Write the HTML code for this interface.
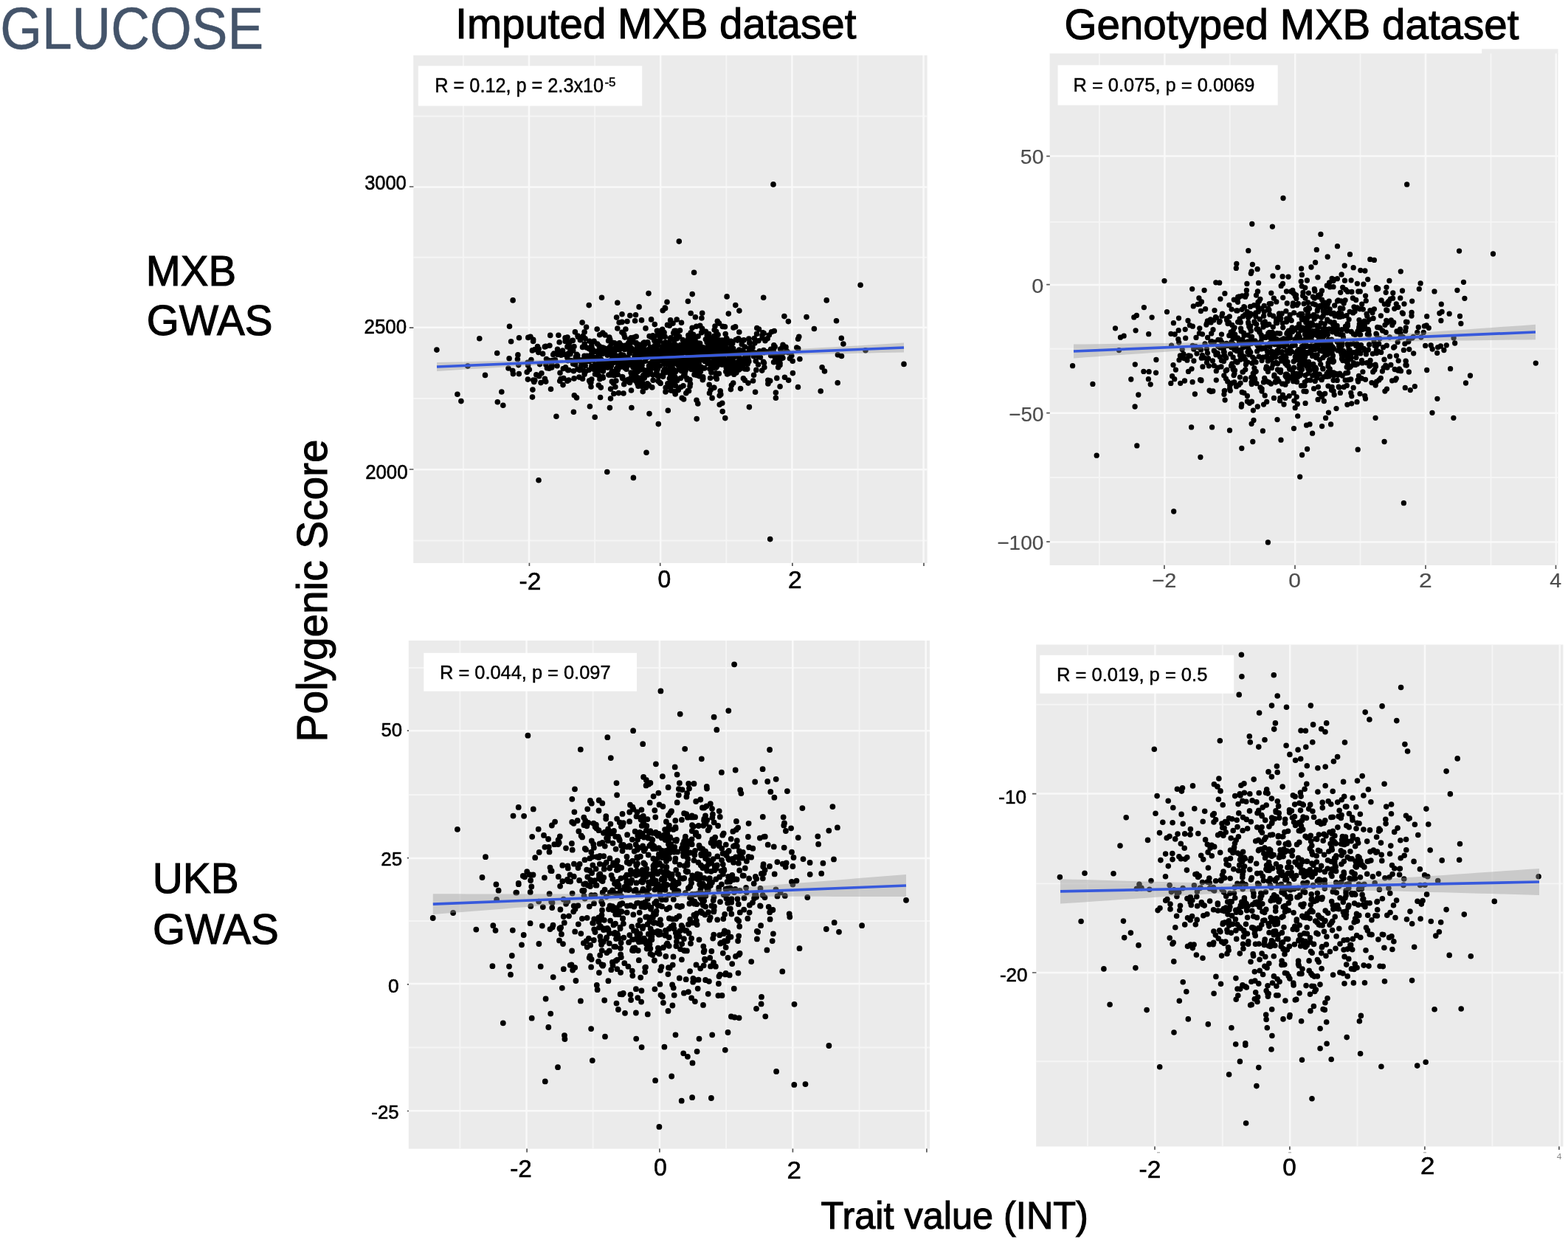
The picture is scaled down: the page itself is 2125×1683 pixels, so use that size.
<!DOCTYPE html>
<html lang="en"><head><meta charset="utf-8"><title>GLUCOSE</title>
<style>html,body{margin:0;padding:0;background:#fff}body{width:2125px;height:1683px;overflow:hidden}svg{display:block}</style>
</head><body>
<svg role="img" aria-label="GLUCOSE polygenic score versus trait value scatter plots" width="2125" height="1683" viewBox="0 0 2125 1683" font-family='"Liberation Sans", Arial, Helvetica, sans-serif'>
<rect width="2125" height="1683" fill="#fff"/>
<g id="p1">
<rect x="560.2" y="75" width="696.4" height="688" fill="#ebebeb"/>
<path d="M560.2 157.5H1256.6M560.2 348.8H1256.6M560.2 540H1256.6M560.2 732.5H1256.6M627.9 75V763M806.1 75V763M984.3 75V763M1162.5 75V763" stroke="#f5f5f5" stroke-width="1.9" fill="none"/>
<path d="M560.2 253.4H1256.6M560.2 443.7H1256.6M560.2 636.3H1256.6M717 75V763M895.2 75V763M1073.4 75V763M1251.6 75V763" stroke="#f9f9f9" stroke-width="2.5" fill="none"/>
<rect x="566.8" y="89.3" width="303.4" height="54.2" fill="#fff"/>
<path d="M824.6 461.8h0M997.1 481.9h0M962.6 512.3h0M888.6 462.2h0M832.5 508.7h0M932.5 498.3h0M808.7 484.3h0M892.6 478.4h0M798.9 462.2h0M1000.2 493.3h0M797.9 488.7h0M875.2 480h0M961.7 460.4h0M1024.9 501.4h0M971.2 496.9h0M1016.2 471.5h0M950.2 474.8h0M905.2 467.2h0M789.1 437.1h0M809.6 466h0M782.8 500.3h0M895.4 475.6h0M850 435.5h0M864.6 490.3h0M831.8 476.8h0M904.9 519.8h0M1050.3 484.3h0M897.6 472.2h0M900.3 504.1h0M1062.9 428.6h0M801.7 468.4h0M848.7 487h0M973.3 489.6h0M951.5 484.2h0M865.9 517h0M896.9 456.2h0M801.8 514h0M858.6 475.9h0M873.4 479.7h0M915.5 503.7h0M793.7 490.5h0M746.5 527.2h0M976.8 534.4h0M861.5 497.7h0M813.6 538.5h0M899.3 493h0M818.4 496.8h0M894.7 458.7h0M847.9 446h0M1001.8 460.4h0M833.8 483h0M972.1 494.2h0M887.5 468h0M1142.9 466.1h0M879.4 506.9h0M972.3 435.3h0M873.1 464.1h0M960.5 490h0M891.2 509.4h0M882.6 432.9h0M905.2 466.4h0M865.8 478.6h0M922.2 501.2h0M967.8 474.7h0M868.4 495.6h0M738.4 513.2h0M777.4 558.2h0M864.7 487.5h0M881.2 479.3h0M892.5 485.6h0M763.3 499.5h0M902.2 465.3h0M815.6 470.9h0M843 425.8h0M1002.3 478.6h0M937.1 499.2h0M1081.7 472.4h0M772.3 476.9h0M988.4 490.1h0M943.7 483.5h0M830.7 473.3h0M866.7 501.8h0M1061.5 477.9h0M1013.2 493.2h0M862.2 456h0M747.8 494.1h0M811.4 477.2h0M891.3 466.8h0M927.9 470.1h0M878.5 483.9h0M926 489h0M915.7 483.5h0M842.3 495.8h0M975.4 461.1h0M862.4 517h0M969.5 494.8h0M967.5 461.8h0M834.1 484.7h0M800 518.5h0M1055.4 495.9h0M864.2 476.4h0M979 489.1h0M994.8 507.3h0M1007 493.2h0M862.7 475.6h0M1009.2 485.1h0M893.6 509.5h0M958.2 453.8h0M1005.4 489.5h0M970 505.8h0M970.5 498.1h0M801.8 496.4h0M852.7 473.6h0M806 476.3h0M1053.5 486.4h0M1051 490.1h0M756.9 454.3h0M941 507.6h0M815.8 494.7h0M936.4 476.1h0M928 507.8h0M950.8 499.6h0M969.9 464.2h0M802 470.8h0M633.9 496.1h0M919.7 491.7h0M873.6 466.9h0M766 457.9h0M873.6 483.8h0M715.6 494.6h0M803.2 473.7h0M996.2 505.8h0M792.2 466.1h0M897.7 446.3h0M926.4 477.1h0M929 502.3h0M877.8 463.9h0M841.4 491.8h0M673.7 478.5h0M900 473h0M868.4 480.4h0M1033.9 450.8h0M794.6 443.2h0M828.4 495.5h0M888.4 499.4h0M976.7 478.7h0M964.1 458h0M869.9 523.4h0M852.2 473.9h0M890.5 468.8h0M759 505.3h0M1114.1 497.7h0M703.3 506.6h0M904.7 501.9h0M1009.3 470h0M1041.4 518.3h0M1173 474.8h0M1074.2 489.2h0M956.1 475.2h0M796.7 487h0M901.3 485h0M778.8 492.3h0M827.9 473.9h0M1039 476.8h0M886.1 482.4h0M952.7 510.9h0M1001.9 421.1h0M910.9 478.2h0M790.3 455.2h0M741.4 498.8h0M880.5 474.2h0M781.5 538.9h0M941.8 473.5h0M773.3 471.4h0M932 483.1h0M1001.6 500.9h0M951.9 487.2h0M969 442h0M914.3 518.7h0M811.5 493.6h0M801.2 483.2h0M993.7 519h0M911.3 485.5h0M904.5 440.4h0M817 510.7h0M946.8 485.1h0M979.3 469.1h0M921 500h0M992.7 465.2h0M1009.7 489h0M942 459.9h0M769.6 479.6h0M941.3 485.4h0M862.3 473.5h0M758.7 516.2h0M961.2 521.3h0M806.1 497.4h0M965.1 539.4h0M990.4 527.6h0M965.6 481.2h0M991.4 499.5h0M964.5 475.9h0M856.6 463.4h0M1040.8 515.3h0M912.4 483.5h0M923.9 471.4h0M752.5 487.9h0M885.7 478.2h0M726.8 507.8h0M859.2 507.7h0M802.4 481.9h0M839.5 464.8h0M931.8 463.9h0M924.2 539.2h0M916 475.7h0M986.6 472.8h0M793.7 483.9h0M992.2 474.2h0M951.6 445.3h0M790.9 502.2h0M907.3 441.2h0M902.2 525.2h0M970.6 510h0M721.5 538.1h0M795 471h0M835.5 499.5h0M1014.8 459h0M842.4 480.8h0M1027.6 494h0M857.9 497.4h0M867.6 490.2h0M991.4 522.1h0M908.9 457.8h0M909.4 521.8h0M1023.6 531.2h0M914.5 478.1h0M933.3 488.3h0M846.8 457.1h0M914.1 493h0M1028 461.8h0M916.2 486.3h0M984.7 488h0M870.1 494.5h0M910.1 468.6h0M918.7 449.4h0M841.1 486.4h0M1057.6 473h0M722.6 462.5h0M1022 477.9h0M959 492.5h0M902.2 473.8h0M985.6 507h0M879.2 501h0M906.9 487.7h0M1001.6 474.9h0M973.1 453.5h0M1029.3 475.7h0M969.3 487.8h0M856.5 491.7h0M969.9 511.3h0M855.5 529h0M909.1 529.1h0M890.9 492.3h0M823.2 481.2h0M971.3 513.4h0M830 482.4h0M1044.6 473.3h0M852.5 493h0M974.4 483.2h0M728.5 469.5h0M829.7 483h0M950.3 482.7h0M796.5 482.8h0M993.5 499h0M1006.8 494h0M925.9 478.1h0M874.9 483.8h0M908.8 518.2h0M849.9 484.2h0M853.6 466.7h0M967.2 498.5h0M885.2 455.4h0M895.1 519.4h0M777.4 502.8h0M934.5 473h0M755.7 480.4h0M988.5 482.4h0M914.5 487.1h0M779.4 449.9h0M864.6 521.1h0M935 523.4h0M845.9 483.2h0M967.3 478.8h0M996 483.2h0M926.5 509.3h0M998.5 498h0M901.1 480.3h0M853 468.8h0M839.7 485.7h0M896.2 453.9h0M851.3 485.2h0M904.7 493.9h0M875.2 502.3h0M811.8 493.4h0M871.1 511.1h0M849.6 496.2h0M855.2 457.7h0M881 473.5h0M936.9 500.5h0M880.9 482.7h0M818 492h0M885.3 496.7h0M871.8 468.9h0M776.3 461.4h0M722.7 460.2h0M915.7 502.2h0M773.9 488.5h0M776.7 493h0M744.9 468.3h0M926.2 489h0M914.2 485.2h0M931.9 468.9h0M944.3 508.4h0M911.1 494.6h0M912.1 492.5h0M818.6 492.6h0M985.5 501.6h0M972.2 460.4h0M949.4 503.5h0M981.6 491.6h0M777.2 492.7h0M917.9 484.8h0M931.3 514.4h0M911.2 514.7h0M860.3 502.1h0M851.7 490.9h0M833.9 524.2h0M891.5 448.4h0M776.7 475h0M850.5 494.1h0M915.8 448.3h0M920.6 456h0M1072.8 482.1h0M916 477.9h0M914.3 487h0M782.7 481.5h0M863.2 502.5h0M894.1 488.3h0M760.4 481.2h0M1009.4 515.3h0M981.9 470.6h0M903.4 489.5h0M930.5 488.3h0M901.2 500.1h0M861.5 426.7h0M730.1 472.7h0M932.4 408.2h0M947.4 487.3h0M789.5 470.4h0M858.7 487.4h0M936.2 450.8h0M811.3 522.1h0M993.3 489.3h0M875.9 502.7h0M975.4 468.7h0M856.8 475h0M838.8 482.3h0M974.2 493.6h0M919.3 528.6h0M831.8 533.5h0M927 489h0M1014 519.1h0M798.2 472.4h0M990.8 471.8h0M816.7 474h0M809.2 446h0M838.4 532.6h0M863.8 504h0M1052.8 512.4h0M770.9 501.5h0M841.4 481.8h0M743.2 488.3h0M911.4 470.1h0M888.1 472.6h0M960.3 479.4h0M888.7 473.8h0M809.5 477.3h0M875.7 525.1h0M889.9 504.6h0M769.6 501.6h0M826.9 470.6h0M718.9 456.2h0M938.6 482.5h0M915.6 467.6h0M907 464.2h0M860.3 503.5h0M766.5 497.9h0M957.5 471.4h0M980.1 463.7h0M1035 474.5h0M941.6 467.1h0M962 499.9h0M932.8 465.7h0M1010.7 482.1h0M837.6 501.1h0M930.8 464.7h0M1063.5 511.2h0M910.5 494.2h0M926.2 467h0M884.9 498.2h0M944 542.2h0M958.1 463.8h0M805.3 500.7h0M784.9 511.1h0M894 486.4h0M838.8 465.8h0M866.8 467.3h0M1005.3 466.5h0M941.5 489.7h0M845 533h0M991.7 484.4h0M960.5 474h0M822.4 472.5h0M947.2 471.8h0M940.8 495.9h0M944.7 469h0M798.5 485.8h0M978.8 461h0M883 499.3h0M1013.9 486.2h0M834.8 483.1h0M803.7 488.2h0M1051 487.7h0M970.4 477.6h0M930.3 492.2h0M884.5 492h0M865 523.2h0M901.1 473.3h0M768.7 484.3h0M826.4 552.6h0M946.9 507.5h0M850.8 488.5h0M923.5 437.3h0M858.9 457.4h0M724.8 515.2h0M868.7 514h0M1002 484.9h0M887.6 488h0M970.7 449.3h0M1007.4 512.7h0M895.4 483.4h0M1003.4 494.1h0M721.9 528.1h0M979 490.8h0M863.5 468.9h0M996.9 503.4h0M945.8 480.1h0M920.2 482.9h0M922 486.2h0M932.2 529.6h0M848.6 494.6h0M884.9 480.3h0M933.8 481.3h0M906.7 480.2h0M890.4 448.3h0M952.9 470.9h0M890.4 502.4h0M881.2 497.6h0M977.8 471.8h0M987.3 425.1h0M744.2 499.3h0M768.5 462.3h0M866.8 512.5h0M903.9 470.7h0M899.7 452h0M828.9 465.6h0M844.5 494.2h0M901.3 473.7h0M1012.7 500.1h0M1012.3 489.6h0M901.3 417h0M887.5 474.3h0M788.6 487.9h0M875.2 482.7h0M923 494.4h0M844.3 491.4h0M1035.3 477.6h0M908.6 433.7h0M855.9 552.5h0M1044.7 481.7h0M739.9 494.2h0M930.8 512.6h0M967.7 485.7h0M970.8 497.4h0M923.2 486h0M930.8 474.9h0M898.2 420.8h0M954.7 498.9h0M933.4 459.9h0M953 486.3h0M831 464.5h0M768.9 469.9h0M970.6 508.3h0M817.8 474h0M961.5 532.7h0M991.4 467.3h0M820 453.9h0M1003.6 526.6h0M1135.4 480.8h0M974.5 438.1h0M801.4 471.4h0M950.3 497.4h0M917.4 458.7h0M749.7 480.6h0M835.6 430.1h0M1015.8 463.7h0M763 521.6h0M829.5 487.9h0M785.2 500.6h0M871.2 530.6h0M979.3 442.4h0M812.1 490.7h0M1045.6 449.7h0M724.9 473.6h0M1011.7 478.8h0M895.2 483.7h0M1074.4 505.6h0M859.8 485.6h0M864.3 468.5h0M972.7 473.8h0M963.7 494.7h0M892.1 516.4h0M1103.4 445.5h0M834.6 474h0M912.7 451.2h0M909.9 499.5h0M934.2 468.8h0M984 467.8h0M1060.5 470.4h0M778 469.6h0M1057.1 492.3h0M917.2 433h0M940.6 499.1h0M896.2 455.3h0M695.4 506.6h0M921.5 447.8h0M941.7 499.9h0M934.9 514.6h0M793.7 503.2h0M985 459.1h0M801 524h0M982.5 442.8h0M990 502.7h0M715.8 457.4h0M934.2 494.9h0M839.6 474h0M722.7 515.1h0M864.1 466.5h0M941 496.8h0M938.8 462.3h0M905.6 481.2h0M945.8 546.9h0M877.5 507.9h0M739.7 517.1h0M1081.6 459.2h0M802.6 486.6h0M812.9 476.8h0M870.8 500.4h0M1013.8 482.3h0M979.3 493.8h0M793.2 495.5h0M896.7 478.9h0M910 476.2h0M1068.4 435.6h0M961.1 481.3h0M694.8 502.3h0M703.5 457.8h0M816.9 451h0M912 438.1h0M859.8 512.4h0M816.1 472.3h0M855.6 471.7h0M952.1 476.9h0M1017.6 477.4h0M744.3 489.3h0M804.5 475.5h0M1057 494.8h0M760 513.2h0M885.1 515.2h0M938.7 482.2h0M941.9 483.6h0M887.8 497.1h0M907.4 512.8h0M1032.7 502.1h0M850.3 490.4h0M731.5 493.6h0M883.8 524.9h0M915 481h0M984.5 458.4h0M878.7 501h0M906.6 477.1h0M974.3 506.3h0M825.8 457.1h0M923.9 489.8h0M766.1 462.4h0M755.5 473.3h0M891.5 499.8h0M755 495.7h0M859.2 495h0M897.8 449.4h0M988 483.5h0M869.2 496.7h0M880.2 472.8h0M827.6 527.1h0M674.3 544.7h0M942.4 429.8h0M990.4 462.2h0M789.5 513.3h0M960.3 466.2h0M922.4 512.5h0M962 464.4h0M805.1 462.7h0M809.8 503h0M771.2 465.6h0M1008 460.9h0M958 458.8h0M735.6 479.4h0M956 479.5h0M1012.5 486.4h0M690.1 485.8h0M773.2 477.6h0M837.1 487.2h0M843.7 510.8h0M887.4 493.3h0M862.1 496.2h0M721.4 474.9h0M805.1 462.3h0M826.9 469.5h0M926.2 497.3h0M933.5 479.3h0M873 509.1h0M935.5 520h0M821.9 479.1h0M913.6 530.6h0M846.5 473.4h0M953.4 483.7h0M970.5 507.9h0M679.8 531h0M855 493.4h0M910 470.8h0M915.1 467.6h0M883.2 474.4h0M1068.7 515.3h0M972.6 471.8h0M817.3 512.1h0M813.7 498.9h0M811.6 474.7h0M1060.9 485.1h0M823.1 492h0M832.7 478.5h0M813.2 497.3h0M842.9 450.3h0M929.6 490.3h0M928.9 500.4h0M886.9 483.1h0M766.1 480.5h0M786.4 460.8h0M841.9 486.3h0M984.2 497.9h0M1020.6 516h0M926 522.7h0M829.3 517h0M775.5 461.6h0M974.2 490.3h0M800.6 474.1h0M782.7 484.8h0M889.2 470.4h0M1051.5 480.9h0M895.4 509.3h0M762.5 475.1h0M965.7 497.5h0M875.6 474.1h0M808.1 484.3h0M824.9 508.1h0M892.6 474.9h0M959.6 469h0M978.2 467.9h0M860.1 482.2h0M926.6 541h0M867.1 473.9h0M964.7 478.8h0M1081.5 524.5h0M952.3 514.7h0M1083.9 486.5h0M1065 470.2h0M910.7 507.7h0M943.3 502h0M894.2 495.7h0M875 444.9h0M1042.3 454.1h0M750.8 479.1h0M748.2 488.5h0M994.8 483.1h0M986.1 495.5h0M919.1 474h0M878.1 464.8h0M828 478.1h0M991.1 477.5h0M946.8 479.6h0M980.4 484.9h0M988.1 475.9h0M939.6 453.4h0M1001.8 450h0M924 468.8h0M853.5 518.4h0M883.1 457h0M900.3 501h0M884.8 508h0M811.2 508.6h0M930.3 491.6h0M807.7 503.4h0M833 485.8h0M1035.2 451.6h0M935.2 468.1h0M851.7 464.9h0M1054.7 497.8h0M1006.6 486.3h0M916.5 476.7h0M882.4 477.5h0M922.8 524.5h0M956.4 485.8h0M899.1 503.6h0M862.4 479.2h0M890.8 487.3h0M984.1 459.8h0M877.9 476.7h0M862.1 464.5h0M833.6 472.4h0M1015.8 464.8h0M778 512.9h0M834.9 516.1h0M932.6 476.7h0M861.7 465.1h0M967.8 486.1h0M891 454h0M1007 475.1h0M910.2 514h0M875.9 474.8h0M810.6 487.2h0M968.1 455.3h0M919.6 495.5h0M971.6 476.8h0M981.8 491.2h0M912 500.1h0M999.6 490.9h0M692.6 462.8h0M963.9 504.8h0M862.9 472.4h0M843.8 469.9h0M785.5 489.1h0M912.3 459.5h0M833.8 483.7h0M856.4 515h0M889.3 483.4h0M899 465h0M940.8 480.1h0M923.3 481.8h0M875.2 503.3h0M960.8 452.5h0M917.1 469h0M814.5 480.1h0M981.5 461.9h0M936.2 424.5h0M1009.5 499.9h0M787.5 496h0M792.1 449.9h0M800.9 518h0M952.8 513.1h0M849.9 489h0M1007.3 489.7h0M806.5 507h0M793.1 458.7h0M879.5 495.8h0M830.9 508.1h0M1019.9 470.9h0M881.5 504.9h0M895.4 448.4h0M1001.9 474h0M853.3 488.1h0M988.2 474.2h0M911.2 486.9h0M819.7 492.9h0M948.9 468.1h0M729.8 477.5h0M847.3 517.1h0M927.9 488.1h0M866 484h0M848.9 515.3h0M906.7 481.1h0M740.5 486.6h0M940.6 477.7h0M995.7 477.2h0M1033 454.8h0M946.1 455.7h0M1022.8 465.1h0M918.8 470.9h0M900.9 471.2h0M928.5 489.1h0M925.2 460.6h0M955 480.4h0M901.6 417.8h0M867.4 475.2h0M834.9 490.1h0M911.6 480.7h0M947.1 481.2h0M891.3 463.9h0M1030.4 484.1h0M934.2 497.7h0M993.7 501.8h0M884.7 476.1h0M738.3 469.9h0M759.9 478.9h0M974.4 486.8h0M900.6 470.8h0M715.6 495h0M845.8 489.7h0M1093 429.6h0M908.6 510.6h0M918.1 472.9h0M827.7 488.5h0M814.1 489.7h0M940.3 501h0M772.5 471.8h0M964.4 482.9h0M983.2 452.6h0M1133.5 434.8h0M969.7 471.2h0M947.2 492.3h0M1043.7 516h0M942.4 487.7h0M914 461h0M845.7 520.8h0M1007.7 478h0M904 487.1h0M915.6 452.8h0M993.7 472.3h0M865.1 490.2h0M820.8 475.5h0M879.3 521.9h0M908.9 525.1h0M1070.5 485.8h0M886.3 480.9h0M832.7 464.9h0M860.6 434.8h0M780.1 487.3h0M1034.6 490.4h0M1082.8 456.3h0M1037 461.7h0M933.5 529.8h0M798.2 501.3h0M873.2 512.3h0M908.3 506.7h0M1003.4 499.5h0M714.2 504.2h0M881.6 492.4h0M1025.6 452.4h0M978.5 494.1h0M914.1 448.4h0M798.6 489.6h0M920.6 498.5h0M853.7 494.2h0M956.5 449.3h0M962.1 492.7h0M956.8 475.6h0M845.7 453.3h0M978.7 478.8h0M831.3 519.2h0M930.1 477.6h0M1028.3 483.5h0M903 466.6h0M827.9 507.9h0M901.8 463.9h0M913.6 485.2h0M932.6 459.2h0M973.7 484.6h0M1022.3 458.5h0M964.2 481.9h0M853.1 478.9h0M910.2 503.5h0M818.8 498.4h0M816.3 479.6h0M715.4 514.1h0M1040.9 519.9h0M847.9 468h0M929.8 532.8h0M829.1 503.9h0M860 487.5h0M960.6 484.4h0M987.8 505.9h0M833.5 485.5h0M892.1 462.6h0M816.4 479.6h0M1015.5 474.2h0M976.4 477.8h0M936.1 459.6h0M792.1 507.1h0M902 530.9h0M856 512h0M980.9 480.4h0M973.8 471.3h0M951.7 424.2h0M969.3 490.4h0M862 475.7h0M940.4 476.8h0M702.7 494.6h0M874.3 478h0M768.9 516.3h0M853.8 427.6h0M719.9 487.5h0M1048.6 477.5h0M871.5 508.7h0M910 502.3h0M845 481.2h0M959.1 478.2h0M932.4 462.3h0M967.5 525.4h0M974.8 492.6h0M831.1 491.6h0M950.6 450.7h0M950.9 431h0M866.9 488.3h0M948.6 465.2h0M842.2 467.9h0M896.8 480h0M892.8 462.6h0M849.6 486.2h0M1035.9 497.7h0M855.6 511h0M701.4 486.7h0M1056.7 482.4h0M1057.8 486.4h0M795.7 482.3h0M968.8 460.9h0M832.1 503.4h0M861.2 507.9h0M689 499h0M894.1 518.4h0M717.3 500.8h0M758.1 463.7h0M895.8 485.2h0M769.5 488.6h0M967.9 525.2h0M983.8 503.5h0M928.1 505.8h0M814.3 525.1h0M921.4 494.8h0M874.5 489.3h0M912.5 482.9h0M859.1 514.7h0M838.8 472.6h0M783.4 456.6h0M922.2 501.4h0M955 489.4h0M1000.7 458.9h0M1140.3 458.3h0M884.8 454.7h0M855.1 505.1h0M780.3 483.7h0M824.2 473.1h0M878.5 506.8h0M900.3 484.1h0M1048.7 472.2h0M804.1 487.2h0M920.9 491.9h0M843.8 512.8h0M826.7 459.9h0M975.2 548.2h0M967.9 467.1h0M922.3 467.6h0M832.7 477h0M1001.1 475h0M918.3 482.9h0M808 476.4h0M808.7 476.2h0M927.9 492.5h0M863.9 519.9h0M1014.8 489.7h0M869.5 433.9h0M884.9 487.3h0M881.2 492.4h0M963 528.5h0M843.1 510.6h0M923.7 502.8h0M701.9 480.9h0M1040.2 458.8h0M868.4 495.2h0M1021.5 482.8h0M915.2 534h0M745.7 454.4h0M903 468.8h0M902.2 503.1h0M889.5 505.7h0M943.9 489.9h0M812.9 513.7h0M715.1 491.4h0M816.1 502.3h0M920.1 476.6h0M886.7 461.6h0M857.1 462.6h0M989.7 477.2h0M908.2 458.5h0M1066.3 475.7h0M994.1 475.8h0M1048.6 490.7h0M975.2 536.1h0M900.1 450.6h0M943.7 494.4h0M864.3 502.4h0M994 444h0M975.6 477.2h0M984.9 460.9h0M996.6 442.9h0M837.6 495.5h0M985.3 460.7h0M888.3 467.4h0M778.3 535.7h0M876.3 484.6h0M997.2 460.5h0M881.5 470.5h0M901.2 456.2h0M769 457.1h0M970.4 468.5h0M938.6 477h0M872 464.7h0M785.5 501.6h0M868.5 475.9h0M956.4 459.8h0M960.6 482.8h0M986 465.2h0M888.7 498.8h0M1000.4 493.5h0M1035.5 491.8h0M817.9 471.4h0M1057.1 523.7h0M975.9 465.2h0M831.5 485h0M988.4 488.3h0M913.3 466.8h0M763.8 512.6h0M968.2 447.1h0M770.7 515h0M966.8 469.5h0M1067.8 477.6h0M956.2 478.7h0M1013.8 491.3h0M846.6 468.9h0M846.8 498.4h0M836.7 466h0M907.2 492.7h0M916.8 484.3h0M832.5 504.1h0M779.6 493.9h0M1021.6 508.2h0M836.2 490.1h0M851.6 486.7h0M873.7 506.8h0M747.7 498h0M990.8 485.9h0M823.5 498.1h0M739.5 469.4h0M874.2 475.1h0M991.3 479.8h0M911.7 519.8h0M810.9 480.4h0M997.9 505h0M814.8 487.4h0M944.3 465.4h0M938.8 491.8h0M946.1 465h0M929.5 486.9h0M877.3 519.7h0M992.8 500.5h0M917.1 485.3h0M1049.3 448.5h0M908.3 498.9h0M799.4 550.7h0M962.3 490.7h0M942.1 469.7h0M938.1 444.2h0M848.9 500.2h0M947.8 509.7h0M920.2 478.7h0M864.3 511.8h0M827.9 479.1h0M842.9 436.4h0M932.9 454.3h0M827.3 497.7h0M870.3 517.7h0M905.7 474.8h0M1024 478.4h0M934.6 488.2h0M772.9 479.7h0M939.5 474h0M951.9 475.5h0M840.2 497.5h0M806.8 493.9h0M790.9 493.8h0M836.8 445h0M730.6 509.8h0M1025.8 444.5h0M961.5 482.1h0M858.7 509.1h0M873.5 501.9h0M948.8 441.2h0M915.6 522.7h0M842.7 493.4h0M880.1 455.5h0M1024.3 489.2h0M898.5 510.3h0M723.8 517.4h0M733.9 505.8h0M781.7 480.3h0M914.5 510.4h0M961.5 467.7h0M979.6 470.5h0M915.8 512.6h0M980.9 476.2h0M872.5 477.4h0M905.4 481h0M827.5 540.1h0M910.6 490.6h0M1048.8 467.8h0M887.3 439.6h0M886.5 457.8h0M975.7 493.7h0M690.5 442.3h0M947.9 505.3h0M943.7 442.3h0M976.2 529.9h0M910.4 482.2h0M839.1 437h0M1117.5 503h0M733 518.6h0M853.2 460.1h0M798.7 515.9h0M999.5 461.1h0M1140.5 482.5h0M932.2 488.4h0M993.5 494.1h0M840.9 481.5h0M903.6 474.1h0M812.7 453.8h0M988 481.8h0M874.3 507.4h0M862.5 490.7h0M947.3 497.3h0M983.8 477.4h0M837.1 507.4h0M851.3 514.2h0M989.7 494h0M821.7 495.6h0M897 488.5h0M902 504.7h0M1028.5 446.1h0M1061 467.3h0M946.8 476.4h0M801.6 479.8h0M897.7 469.9h0M1033.1 457.9h0M881.5 482.7h0M783 455h0M946.1 504.4h0M812 468.7h0M1050.2 469.7h0M917.5 515.7h0M817.4 503.1h0M792 482.4h0M933.2 462.5h0M1079.8 471h0M870.9 519h0M1048 249.9h0M920.3 327.1h0M940.6 369.3h0M1166.1 386.3h0M938.2 398.6h0M879 397.6h0M985.1 401.9h0M1034.7 403.3h0M1120.2 406.9h0M695.1 406.9h0M815.5 403.3h0M836.8 410.2h0M798.2 413.6h0M904 409.2h0M996.8 413.6h0M866.1 415.9h0M591.9 474.1h0M649.8 458.8h0M1225 493.4h0M619.9 534.3h0M624.9 543.6h0M681.8 549.3h0M1135.2 518.7h0M1112.2 530h0M657.5 508.4h0M753.9 564.3h0M806.2 565.3h0M880 560.6h0M892.3 574.6h0M905.3 556.3h0M944.2 567.6h0M979.2 557.6h0M982.8 566.6h0M978.8 546.3h0M1015.4 551.6h0M1051.4 539.3h0M1051.4 532h0M876 613.2h0M822.8 639.5h0M858.4 647.4h0M730 650.8h0M1043.7 730.6h0" stroke="#000" stroke-width="7.6" stroke-linecap="round" fill="none"/>
<polygon points="592,491.1 607.8,490.8 623.6,490.4 639.5,490 655.3,489.6 671.1,489.3 687,488.9 702.8,488.5 718.6,488.1 734.4,487.7 750.2,487.3 766.1,486.9 781.9,486.5 797.7,486.1 813.5,485.7 829.4,485.2 845.2,484.7 861,484.2 876.9,483.6 892.7,483 908.5,482.3 924.3,481.6 940.1,480.8 956,480 971.8,479.2 987.6,478.4 1003.5,477.5 1019.3,476.6 1035.1,475.7 1050.9,474.8 1066.8,473.9 1082.6,473 1098.4,472.1 1114.2,471.1 1130,470.2 1145.9,469.3 1161.7,468.4 1177.5,467.4 1193.3,466.5 1209.2,465.6 1225,464.6 1225,477.4 1209.2,477.7 1193.3,478.1 1177.5,478.5 1161.7,478.8 1145.9,479.2 1130,479.6 1114.2,480 1098.4,480.3 1082.6,480.7 1066.8,481.1 1050.9,481.5 1035.1,481.9 1019.3,482.3 1003.5,482.7 987.6,483.1 971.8,483.6 956,484.1 940.1,484.6 924.3,485.1 908.5,485.7 892.7,486.3 876.9,487 861,487.7 845.2,488.5 829.4,489.3 813.5,490.1 797.7,491 781.9,491.9 766.1,492.8 750.2,493.7 734.4,494.6 718.6,495.5 702.8,496.4 687,497.3 671.1,498.2 655.3,499.2 639.5,500.1 623.6,501 607.8,501.9 592,502.9" fill="#999" fill-opacity="0.4"/>
<line x1="592" y1="497" x2="1225" y2="471" stroke="#3759dc" stroke-width="3.7"/>
</g>
<g id="p2">
<rect x="1422.6" y="72.4" width="688.9" height="693.6" fill="#ebebeb"/>
<rect x="2008.2" y="66.4" width="103.3" height="7" fill="#ebebeb"/>
<path d="M1422.6 300.9H2111.5M1422.6 472.8H2111.5M1422.6 647H2111.5M1490 72.4V766M1666.8 72.4V766M1843.6 72.4V766M2020.4 72.4V766" stroke="#f5f5f5" stroke-width="1.9" fill="none"/>
<path d="M1422.6 211.4H2111.5M1422.6 386H2111.5M1422.6 559.7H2111.5M1422.6 734.6H2111.5M1578.4 72.4V766M1755.2 72.4V766M1932 72.4V766M2108.8 72.4V766" stroke="#f9f9f9" stroke-width="2.5" fill="none"/>
<rect x="1433.6" y="88.3" width="298.1" height="54.2" fill="#fff"/>
<path d="M1849.7 536.5h0M1744.9 508.1h0M1876 487.2h0M1888.7 471h0M1805.5 469.7h0M1662.5 431.5h0M1790.4 437.7h0M1868.9 514.9h0M1915.3 456.3h0M1878.8 420h0M1685.2 470.5h0M1781.8 394.2h0M1604.7 485.6h0M1681.1 519.1h0M1791.7 475.8h0M1775.3 501.7h0M1743.5 511.2h0M1710.7 456.2h0M1697.1 492.2h0M1760.2 426.8h0M1933.2 441h0M1791.7 537.7h0M1743.9 494.8h0M1765.7 400.7h0M1826.7 505h0M1735.9 464.2h0M1624.9 404h0M1812.1 441.5h0M1782.7 504.5h0M1765.4 488.4h0M1884.4 405.1h0M1822.5 380.2h0M1774.9 439.9h0M1662.2 465.3h0M1720.9 469.7h0M1677.1 490.8h0M1665.8 454.7h0M1722.5 520h0M1625.4 451.7h0M1861.1 431.4h0M1647.9 480.7h0M1731.5 501h0M1676 475.6h0M1815.6 506.1h0M1659.7 529.3h0M1677.7 402.3h0M1673 474.1h0M1728.7 484.1h0M1800.6 475.9h0M1734.6 542.9h0M1871.3 512.3h0M1712.3 472.2h0M1658.4 477h0M1697.7 484.1h0M1726.8 509.7h0M1829.7 514.3h0M1615.7 391.6h0M1706.2 483.2h0M1783.3 470.7h0M1837.9 484.6h0M1798.6 423.8h0M1908.8 463.1h0M1854.4 474h0M1868.7 466h0M1776.1 469.1h0M1694.6 442h0M1744.1 459.5h0M1824.4 489.6h0M1738.7 403.3h0M1620.3 469.3h0M1699.4 504.9h0M1772.5 428.9h0M1719.7 467.6h0M1768.4 494.2h0M1761 494.4h0M1798.3 466h0M1694.8 477.3h0M1844.5 467.6h0M1898.5 502.7h0M1753.9 543.1h0M1666.7 522.4h0M1929.3 450.4h0M1757.2 508.9h0M1892.5 482.1h0M1788.2 507.2h0M1790.3 415.8h0M1750.9 468.7h0M1635.5 491.3h0M1702.2 503.3h0M1636.4 434.9h0M1639.1 529.2h0M1879.5 527.1h0M1846.9 503.8h0M1617.9 489h0M1723.4 456.7h0M1659.3 529.6h0M1781.4 404.2h0M1812.1 463h0M1673.8 458.2h0M1695.3 370.6h0M1805.1 478h0M1782.5 412.8h0M1704.7 469h0M1817.8 425.2h0M1663.7 516.9h0M1762.9 447.4h0M1691.9 438.4h0M1896.4 499.9h0M1720.2 411.6h0M1904.3 525.4h0M1831.1 379.8h0M1806.7 449.7h0M1779.5 440.5h0M1699.2 490.2h0M1721.7 465.3h0M1779.5 473h0M1859 518.6h0M1636.6 457.4h0M1699.9 498.8h0M1662.8 501.2h0M1818.5 486.2h0M1671.1 458.2h0M1661.7 484.9h0M1840.8 395h0M1684 459.9h0M1710 530h0M1743.9 475.3h0M1658.9 534.3h0M1771.3 496.6h0M1764.4 372.4h0M1643.4 488.9h0M1711.9 484.2h0M1782.1 473.6h0M1837.7 468.4h0M1612.4 440.7h0M1903 411.8h0M1876.9 530.1h0M1787.3 402.4h0M1825 427.7h0M1641.7 451.9h0M1716.7 440.5h0M1774.3 456h0M1698.6 507.2h0M1970.1 457.9h0M1669.6 493h0M1734.4 465.6h0M1581.5 422.6h0M1840 448.9h0M1538.3 493.8h0M1828.4 487.1h0M1736.2 387.4h0M1718.8 451.7h0M1807.5 489.4h0M1735.6 501.3h0M1664 438.5h0M1754.3 488.8h0M1728.7 518.1h0M1793.2 421.7h0M1764.5 425.5h0M1672.3 406.1h0M1880 498h0M1616.1 517.7h0M1841.6 444.9h0M1794.1 510.7h0M1665.9 413.3h0M1633 465.8h0M1833.8 423.9h0M1636.5 478.3h0M1726.3 492.4h0M1748.4 458h0M1752.9 467.4h0M1675.8 420.9h0M1617.7 473.1h0M1866 391.9h0M1725.6 428.2h0M1688 512.8h0M1722 458h0M1913.1 423.4h0M1593.4 501.1h0M1939.2 467.9h0M1648.6 430.6h0M1891 515h0M1705.1 417.1h0M1669.1 419.1h0M1814.7 429.4h0M1716.4 496.9h0M1818.7 464.5h0M1800.8 463.1h0M1587.6 468.1h0M1720.2 450.4h0M1778.6 438.8h0M1865 452.2h0M1771.8 477.7h0M1741.9 492.6h0M1823.8 488.5h0M1694.4 427.4h0M1702.8 466h0M1695.6 425.8h0M1826.7 479.4h0M1839.3 417h0M1686.2 453.1h0M1811 553.6h0M1739.1 520.2h0M1819.9 418.1h0M1890.2 500.5h0M1817.5 407.8h0M1742 521.2h0M1799.9 496.4h0M1733.1 529.9h0M1735.5 504.5h0M1785.3 421.2h0M1887.6 404.2h0M1691.9 472.7h0M1718.8 453.4h0M1800.5 559.1h0M1971.7 465h0M1804 425.1h0M1781.2 500.4h0M1704.4 394.9h0M1667.4 453.1h0M1778.8 494.9h0M1671.9 467.3h0M1730.7 464.9h0M1850.5 514.3h0M1711.6 438.1h0M1692.8 442.4h0M1717.2 456.8h0M1709.3 418.3h0M1650.8 469.3h0M1784.9 454.5h0M1930.4 441.9h0M1645.3 475.2h0M1666.3 428.8h0M1677.5 409.3h0M1768.8 389.8h0M1759.9 480.6h0M1724.4 476.6h0M1770.6 468.1h0M1807.3 471.9h0M1747.4 458h0M1834.4 452.7h0M1807.1 529.9h0M1791.2 514.7h0M1719.6 477.6h0M1802.6 472.4h0M1800 523.1h0M1730 436.6h0M1786.4 400.3h0M1756.1 515.4h0M1756.1 487.6h0M1790.8 514.3h0M1801.6 470.9h0M1743.7 431.9h0M1835.4 422h0M1725.1 493.7h0M1709.2 472.1h0M1752.4 411h0M1707 448.4h0M1695.8 511.4h0M1750.2 434.3h0M1629.5 452.8h0M1866.7 443.5h0M1817.5 478h0M1705.3 422.3h0M1798.3 386.9h0M1801.2 408.2h0M1826.5 441.5h0M1743.8 507.2h0M1663.8 467.6h0M1724.2 484.9h0M1815.6 471.7h0M1770.8 443.9h0M1806 449.8h0M1764.3 469.7h0M1633.6 418.7h0M1772.6 460.8h0M1780.1 508.2h0M1761.9 495.8h0M1755.8 460.2h0M1833.4 404h0M1764.3 474.7h0M1809.2 440.7h0M1795.8 474.6h0M1654 460.7h0M1778.5 428.2h0M1846 446.4h0M1825.3 522.4h0M1625.8 411.9h0M1738.8 486.1h0M1907 436.4h0M1831.3 449.4h0M1699.6 486.2h0M1778.8 508.9h0M1783.7 500h0M1802.4 388.9h0M1724.9 451.4h0M1835 415.8h0M1773.4 445.6h0M1597.7 464.1h0M1813 446h0M1838.5 477.3h0M1784.6 441.1h0M1742.9 484.7h0M1759.3 411.3h0M1742 481.8h0M1855.9 496.1h0M1671.2 497.6h0M1616.3 442.2h0M1685.9 532.3h0M1817.4 474.4h0M1702.9 519.6h0M1735.8 485.3h0M1854.4 447.4h0M1805.1 377.4h0M1608.9 488.2h0M1783.4 483.9h0M1723.5 498.5h0M1785.9 468h0M1714.3 436h0M1789.7 398.7h0M1853.1 436.2h0M1799.3 412.3h0M1799.3 453.3h0M1827 514.8h0M1711.6 471.5h0M1780.6 526.7h0M1645.4 495.4h0M1757.7 413.6h0M1730.5 437.7h0M1856.9 420.7h0M1849.5 441.9h0M1819.7 389.5h0M1693.2 475.1h0M1679.7 401.9h0M1762 499h0M1761.2 456.3h0M1796 445.7h0M1841.5 509.5h0M1648.3 515.1h0M1820.4 475.5h0M1821.3 524.5h0M1879 389.3h0M1823.8 505.7h0M1683.2 531.5h0M1874.6 470.7h0M1637.5 485.7h0M1687.7 402.2h0M1699 569.5h0M1730.9 474.9h0M1842.9 418.8h0M1672.9 506.5h0M1782.3 516.4h0M1655.8 463.8h0M1838.8 466h0M1658.2 473.3h0M1590.4 437.7h0M1834.6 477.7h0M1816.7 396.3h0M1698.6 510.6h0M1956.9 474.5h0M1671.5 518.6h0M1851.3 407.6h0M1768 522.4h0M1879.4 436.1h0M1740.5 484.2h0M1659.9 397.7h0M1696.1 517.9h0M1851.4 479.9h0M1652.7 383.2h0M1757.3 506.4h0M1675.3 468.3h0M1646 420.6h0M1549.9 503.4h0M1749.6 395h0M1712.5 517.9h0M1766.8 463h0M1824 478.4h0M1867.7 391.2h0M1752 414.4h0M1799.3 480.3h0M1746.2 496.5h0M1632.1 393.3h0M1843.8 478.9h0M1748.9 433.2h0M1748.3 510.7h0M1700.7 437.7h0M1788.5 487.5h0M1763.4 522.7h0M1769.7 419.5h0M1559.2 520.8h0M1782.7 481.1h0M1873.4 503.1h0M1843.1 472.4h0M1737.2 476.6h0M1686 483.2h0M1852.3 491.7h0M1771.9 426.7h0M1681.2 436.9h0M1723.1 485.2h0M1801.6 487.6h0M1847.3 419.1h0M1739.8 488.1h0M1828.1 432.8h0M1697.1 516.2h0M1818.4 481.3h0M1733.5 424.8h0M1755.9 478.1h0M1802.2 499.8h0M1768.3 517.8h0M1729.1 480.4h0M1764.3 387.8h0M1644 446.7h0M1771.1 478h0M1869.8 459h0M1729 479.2h0M1650.9 460.3h0M1668.7 470.1h0M1695.4 448.3h0M1772.7 455.2h0M1687 464.9h0M1602.2 473.6h0M1706.4 408.1h0M1597.5 431.1h0M1751.8 393.5h0M1750.4 476.5h0M1948.6 470.6h0M1692.7 465.8h0M1691.8 430.4h0M1799 451.9h0M1883.3 457h0M1793.2 410.1h0M1668.5 495.7h0M1696.3 520.6h0M1684.5 428.7h0M1925.1 383.9h0M1802.1 487.5h0M1588.6 509.7h0M1762.2 496.5h0M1677.6 436.3h0M1747.7 500.3h0M1641.2 530.5h0M1788.8 414.4h0M1760.3 488h0M1864.5 496.4h0M1855.4 453.7h0M1753.3 532.4h0M1705 445.8h0M1760.9 498.9h0M1786.3 507.2h0M1761.9 508.8h0M1629.9 496.9h0M1853.4 453h0M1849.9 367h0M1676.7 491h0M1687.3 426.4h0M1887.8 397h0M1854.8 448.9h0M1678.5 459.7h0M1707.3 432.5h0M1777.8 461.8h0M1808.2 535h0M1862.1 462.9h0M1690.4 544h0M1758.5 475.5h0M1879.3 468.2h0M1873.6 448h0M1776.1 456.1h0M1944 394.9h0M1681.1 436.3h0M1644.8 433.9h0M1864.2 522h0M1699.5 413.6h0M1714.2 535.9h0M1745 490.3h0M1791.5 406.1h0M1845.5 488.3h0M1696.1 367.9h0M1655 496.9h0M1703 446.1h0M1757.8 443.8h0M1789.1 475.1h0M1837.7 406.5h0M1786 450.1h0M1839.4 384.3h0M1732.1 475.8h0M1658.4 468.9h0M1865.4 389.6h0M1586.8 519.4h0M1720.8 426.2h0M1746.5 448.8h0M1770.5 469.4h0M1894.8 416.3h0M1769.5 458.5h0M1673.5 501.8h0M1913.7 408.1h0M1739.6 458.9h0M1729.5 491.5h0M1736.8 478.3h0M1694.5 415.5h0M1762.1 486.6h0M1813.3 463.9h0M1687.2 466.5h0M1729.8 408.9h0M1781.6 453h0M1655.5 453.1h0M1805.2 524.5h0M1592.2 453h0M1801.1 509.9h0M1786.6 416.7h0M1709.2 462.3h0M1683.1 419.3h0M1731.4 492.8h0M1758 455.8h0M1773.4 429h0M1718.4 503.6h0M1808.7 413.9h0M1886.8 440.6h0M1615 499.8h0M1812.8 474.8h0M1670 518.8h0M1802.2 477.1h0M1777.1 479.1h0M1952.9 434.5h0M1857.7 494.4h0M1690.9 463h0M1726.3 404.2h0M1742.6 507.2h0M1784.8 511.9h0M1798.7 433.1h0M1807 388.7h0M1869.6 443.9h0M1719.1 454.4h0M1617.3 414.9h0M1684.5 504.1h0M1900.5 394h0M1909.4 504h0M1789.6 534.2h0M1566.9 487.5h0M1713.6 438.3h0M1823.8 392.6h0M1807.1 515.3h0M1766 396.4h0M1897.8 457.3h0M1807.5 424.3h0M1749.8 512.1h0M1623.3 412.3h0M1795.8 481.4h0M1680.5 481.4h0M1758.3 547.5h0M1650.2 478.7h0M1716.7 544.4h0M1795.8 410.1h0M1794.4 454.9h0M1671.1 484.2h0M1767.1 411.6h0M1714.3 514.3h0M1843 453.5h0M1723.4 476.2h0M1744.3 411h0M1810.4 425.7h0M1883.6 482.9h0M1818.6 446.7h0M1769.8 437.1h0M1719.9 420h0M1881 409.4h0M1905.3 489.4h0M1675.5 523.7h0M1793.2 427.8h0M1778.8 448.6h0M1689.7 464.1h0M1781 448.9h0M1753.6 498.2h0M1746.4 448.2h0M1643.1 466h0M1715.8 456.2h0M1827.6 498.5h0M1760.6 439.2h0M1770 477.6h0M1779.4 402.1h0M1785.4 419.8h0M1785.2 480.8h0M1771.4 515.3h0M1758.3 478h0M1679.5 462.9h0M1737.6 467.6h0M1818.1 372h0M1846.2 491.9h0M1819.9 453.8h0M1712.6 548.1h0M1795.7 533.3h0M1752.4 504.8h0M1831 496.1h0M1730.8 479.1h0M1785.2 472.5h0M1606.7 458.2h0M1871.4 427.8h0M1783.7 508.7h0M1901.4 424.9h0M1853.9 492h0M1810.7 506.4h0M1829.2 422.3h0M1806.5 439.5h0M1793.2 448.2h0M1894.8 502h0M1808.2 436.9h0M1802.2 419h0M1689.1 399.2h0M1841.8 443.2h0M1845.3 512.7h0M1854.4 446.7h0M1892.3 512.8h0M1655.4 488.4h0M1695.8 465.6h0M1871.7 477.4h0M1905.1 489.1h0M1831.8 536.8h0M1875.2 498.3h0M1886.6 515.8h0M1647.5 429.6h0M1775.8 515.2h0M1702.5 400.1h0M1761.8 443.2h0M1742.3 484h0M1765.6 493.3h0M1781.2 432.2h0M1909.8 473.3h0M1688.9 491.1h0M1751.6 449.4h0M1707.9 405.3h0M1685.9 415.6h0M1590 494.6h0M1788.9 456.2h0M1665.4 437h0M1900.4 423.8h0M1837.3 478.6h0M1807 444.7h0M1743.1 464.7h0M1667.3 529.3h0M1690.9 477.1h0M1917.4 523.6h0M1807.5 508.7h0M1738 464.1h0M1566.6 505.1h0M1747.2 536.6h0M1823.1 406.8h0M1812.4 377.7h0M1819.8 488.5h0M1754.8 462.4h0M1628 515.7h0M1761.3 458.1h0M1941.2 473h0M1901.2 456.5h0M1696.5 456.3h0M1769 508.6h0M1881.1 412.4h0M1879.8 437.3h0M1820.5 457.5h0M1752.9 512h0M1766.2 474.7h0M1772.8 506.1h0M1703.7 475.9h0M1616.3 468.3h0M1701.9 428.9h0M1840.1 478.3h0M1681.6 445.1h0M1796.6 566.4h0M1753.2 489.8h0M1655.7 468.6h0M1830.7 482.8h0M1797.1 414.6h0M1770.1 530.5h0M1728.6 463.2h0M1621 457.4h0M1742.1 509.6h0M1839.7 475.5h0M1743.9 452.2h0M1914 458h0M1669.8 440.4h0M1770.8 434.3h0M1627.8 515h0M1705.1 465.2h0M1774.7 456.3h0M1744.6 450.6h0M1758.7 563.8h0M1830.8 532.5h0M1727.7 466.7h0M1807.2 505h0M1839 544.7h0M1885.9 435.8h0M1815 423.8h0M1877 440.3h0M1882.9 380.4h0M1764 487.4h0M1791.5 394h0M1712.1 443.1h0M1756.5 399.8h0M1706.9 472.8h0M1864 494.2h0M1658.8 508.8h0M1905 494.7h0M1733.3 429.5h0M1726.5 539.4h0M1675.3 363.4h0M1706.4 466.6h0M1728.7 516.6h0M1729.4 436.9h0M1693.4 546.3h0M1897.5 446.2h0M1721.1 465h0M1815.8 429.4h0M1902.4 474.4h0M1663.5 468.4h0M1767.3 447.3h0M1774.5 496.6h0M1718.8 418.1h0M1773.4 397.1h0M1717.1 516.9h0M1772.7 409.9h0M1749.4 450.4h0M1762.6 505.1h0M1705 409.3h0M1889.8 418.3h0M1804.5 476.7h0M1722.4 487.3h0M1781.5 468.8h0M1819.8 428.5h0M1836.1 422.1h0M1840.6 517h0M1682.3 551.1h0M1748.2 426.7h0M1727 466.1h0M1698.2 506.2h0M1682.1 478.4h0M1656.6 425.1h0M1760.2 473.7h0M1717.5 476.3h0M1790.9 430.3h0M1753.7 423.8h0M1634.9 440h0M1731 513.2h0M1796.9 464.8h0M1561.1 430.1h0M1804.6 460.1h0M1647.8 382.8h0M1768.5 479.3h0M1913 428h0M1784.7 428.8h0M1738.3 468.7h0M1710.1 527h0M1661.2 502.4h0M1738.7 443.8h0M1849.1 435.2h0M1784.5 463.5h0M1821.2 411h0M1783.7 484.6h0M1701.9 423.9h0M1668.5 467.1h0M1690.8 490.8h0M1748.2 454.2h0M1755.2 467.9h0M1768.6 489.4h0M1860.3 479.3h0M1804.5 528.6h0M1894.2 463.6h0M1667.9 520.6h0M1691.7 436.8h0M1691.3 454.1h0M1556.7 452.7h0M1842.3 439.2h0M1681.1 487.2h0M1865 469.8h0M1797 466h0M1755.1 446.8h0M1862.9 501.2h0M1756.9 481.5h0M1823.1 515.1h0M1792.7 458h0M1840.1 514.8h0M1629.4 481.5h0M1897.8 403.9h0M1870.3 444.3h0M1682.7 548h0M1659.2 477.2h0M1647.3 430.8h0M1922.3 443.4h0M1752.9 397.2h0M1687.6 514.4h0M1798.8 510.3h0M1848.2 472.4h0M1725 374h0M1770.6 576.2h0M1750.6 445.6h0M1653.5 471h0M1789 473.7h0M1734.6 432.9h0M1860.7 503.9h0M1704.2 413.1h0M1702.8 439.3h0M1852.1 425.5h0M1795.1 421.6h0M1753.5 580.6h0M1801.3 445.9h0M1865.6 478.6h0M1767 530.2h0M1839.5 493.2h0M1662.6 433.7h0M1892.3 411.8h0M1686.6 416.2h0M1830.9 485.7h0M1690.2 422.3h0M1799.5 434.7h0M1754.2 398.3h0M1792.4 467.8h0M1713.2 414.3h0M1748.2 478.7h0M1790.7 466.5h0M1688.4 494h0M1855.6 433h0M1643.8 530h0M1771.4 380h0M1826 466.5h0M1691.5 467.9h0M1655.9 428.2h0M1605.5 516h0M1764.5 473h0M1516.5 474.6h0M1850.6 400.8h0M1815 524.9h0M1764.6 500.6h0M1862.1 460.8h0M1722.8 397.1h0M1906.2 495.1h0M1801.6 382.9h0M1842.8 438.5h0M1760.8 473.5h0M1845.5 442.3h0M1687.5 487.2h0M1771.1 433.3h0M1933.7 501.5h0M1788 532.7h0M1764.2 432.1h0M1761.8 462h0M1668.8 470.7h0M1586.9 452.3h0M1790.8 450.4h0M1798.1 506.3h0M1805.3 488.8h0M1811.4 452.3h0M1843.5 471.4h0M1672.1 508.6h0M1764.6 433.2h0M1829.7 480.5h0M1786.1 541.4h0M1865.6 453.5h0M1709.1 418.3h0M1807.2 473.1h0M1865.3 474.9h0M1834.2 525.4h0M1729.6 432.7h0M1773.4 417h0M1758.2 460.9h0M1898 451.9h0M1878.2 450.4h0M1769.6 451.2h0M1765.8 446h0M1676.9 421h0M1849.6 474.5h0M1911.3 528.6h0M1936.3 444.3h0M1669.2 450.8h0M1824.1 481.7h0M1792.6 499.2h0M1812.5 408h0M1905.3 444h0M1772.7 499.7h0M1706.5 449h0M1610.5 503.4h0M1825.4 448.3h0M1697.4 358.3h0M1682.1 448.8h0M1730.9 451.6h0M1773.5 490.4h0M1774.5 418.3h0M1755.2 460.4h0M1677.5 457.8h0M1836.9 494.4h0M1806.6 490.6h0M1599.4 481.9h0M1893 449h0M1738.2 437.8h0M1791.9 465.8h0M1681.9 475.8h0M1768.7 483.8h0M1802.5 436.1h0M1803.2 465.7h0M1759.7 452.4h0M1773.6 442.2h0M1672.8 518h0M1660 482.3h0M1827.9 473.5h0M1736.2 460.7h0M1632 484.8h0M1682.5 463.5h0M1684 504.1h0M1725.9 464.7h0M1879.8 420.7h0M1738.1 374.7h0M1719.8 439.4h0M1814.2 524.2h0M1826.2 492.1h0M1846.2 437.1h0M1692.9 480.7h0M1905.5 436.1h0M1635.4 473h0M1845.8 490.6h0M1800.3 460.1h0M1825.4 447.3h0M1865.6 517.2h0M1831.7 546.8h0M1697.1 462.2h0M1683.4 400.9h0M1669 463.5h0M1806.4 482h0M1815 428.3h0M1843 533.6h0M1920.7 450.5h0M1780 450.6h0M1757.2 537.8h0M1606.2 446.3h0M1765.3 444.2h0M1661.4 513.1h0M1751.1 446.1h0M1640.8 463.2h0M1836.6 453.5h0M1854.2 446.5h0M1684.3 468.9h0M1677.9 403.9h0M1803.1 503.6h0M1814.6 468.8h0M1800.1 492h0M1804.1 487.3h0M1734.9 539.3h0M1758.4 511.3h0M1727.3 464.6h0M1749.1 475.3h0M1878.2 396.3h0M1698.4 556.1h0M1773 491.6h0M1620.5 470.5h0M1765.2 481.1h0M1742.9 421.6h0M1597.2 447.7h0M1724.3 450.3h0M1830.7 466.2h0M1610 434.5h0M1857.1 488.4h0M1772 450.1h0M1852.8 428.2h0M1700.7 514.1h0M1599.7 519.3h0M1794.4 445.5h0M1598 487.8h0M1699.7 463.9h0M1794.9 471.4h0M1771.7 492.1h0M1742.3 465.9h0M1715.7 499.4h0M1716.9 469.3h0M1638.3 495.8h0M1779.8 493.5h0M1834.4 491.6h0M1718.4 489.2h0M1795.3 438.8h0M1925.9 457h0M1715.7 483.7h0M1726 478.2h0M1680.1 432h0M1713.7 512.4h0M1738.5 535.2h0M1888.7 436.9h0M1719.6 517.9h0M1734.6 452h0M1603.9 479.7h0M1613.2 482.4h0M1794.3 543.5h0M1647.8 479h0M1793.1 484.6h0M1812.2 515.4h0M1811.4 449.3h0M1745 516.6h0M1738.5 384.4h0M1627.4 421.5h0M1653.3 483.6h0M1781.3 391.6h0M1674.8 489.6h0M1801.5 460.7h0M1954.1 422.5h0M1785.9 375.8h0M1768.9 431.1h0M1726.2 460h0M1787.2 450.1h0M1815.6 453h0M1668.2 449.9h0M1648.3 502.7h0M1625.8 444.8h0M1719.4 487.9h0M1882.4 408h0M1725.3 443.1h0M1689.4 393.4h0M1763.2 381.3h0M1884.9 494.4h0M1850.5 540.2h0M1689.9 384.5h0M1826.3 438.7h0M1659.2 481h0M1779.4 411.7h0M1885.3 433.8h0M1807 380.6h0M1657.8 471.9h0M1660.1 542.1h0M1705.6 383.4h0M1863 468.2h0M1733 516.7h0M1847.9 385.2h0M1686.1 454.5h0M1717.6 499.8h0M1707.1 450.3h0M1725.3 457.1h0M1670.7 465.8h0M1658.5 489.6h0M1708 525h0M1627.7 473.9h0M1741.9 539.4h0M1798.5 451.5h0M1735.8 431.5h0M1683.4 483.5h0M1816.3 417.7h0M1713.6 438.9h0M1724.1 482.9h0M1716.8 482.5h0M1704 467.6h0M1774.5 452.3h0M1755.4 459.5h0M1727 508.2h0M1843.6 453.4h0M1769 404.1h0M1791.3 452h0M1671.4 447.1h0M1876.3 412.1h0M1667.5 479.6h0M1787.1 451.8h0M1652.4 436.6h0M1923.3 391.6h0M1827.5 487.6h0M1952.4 469h0M1685.6 451.4h0M1872.1 407h0M1772.3 423.9h0M1740 548h0M1771.4 479.1h0M1704.6 395h0M1673 443.8h0M1746 375.1h0M1878.8 434.4h0M1818.5 468.4h0M1746.7 450h0M1816.4 532.4h0M1591.7 513.7h0M1784.5 507.9h0M1769.1 546.4h0M1850 445.6h0M1831.9 395.5h0M1776.7 437.8h0M1680.4 511.1h0M1776.2 441.4h0M1787.5 458.3h0M1743.5 394.8h0M1710.1 488.6h0M1790.6 465.2h0M1653.2 435.2h0M1540.4 427.4h0M1909.1 461h0M1755.4 401.4h0M1776.4 439.3h0M1947.7 478.3h0M1619.4 534h0M1825.2 497.4h0M1709.9 527h0M1933.7 428.7h0M1827 468.3h0M1762.4 425.4h0M1898.3 367.8h0M1755.2 552.7h0M1743.7 466.6h0M1877.8 495.2h0M1709.2 472.9h0M1625.1 471.1h0M1628.3 485.2h0M1889.9 470h0M1772.7 457.1h0M1635.5 438.2h0M1718.9 420h0M1853.7 378.6h0M1673.7 453.1h0M1653.9 405.1h0M1641.1 436.9h0M1626.6 514.7h0M1752.8 516.7h0M1702.1 490.8h0M1748.2 471.5h0M1895.2 488.8h0M1777.8 455.7h0M1596.8 459.7h0M1696.4 544.2h0M1708.3 471.5h0M1743.5 436.1h0M1845.7 412.1h0M1806.8 378.4h0M1904.7 448.4h0M1776 474.9h0M1834.3 465.7h0M1628.4 408.9h0M1709.2 453.8h0M1712.6 428.2h0M1778.6 482.4h0M1730.2 459.7h0M1678.9 521.6h0M1622 479.1h0M1813.1 508.3h0M1755.3 483.5h0M1734.5 426.8h0M1762.5 505.8h0M1813.6 407h0M1757.6 517.6h0M1786.5 524.3h0M1760.8 455.8h0M1713.2 422.2h0M1687.8 500.8h0M1610.8 482h0M1643.6 465.6h0M1790.3 451.9h0M1726.3 456.7h0M1736.9 489.2h0M1787.9 443.1h0M1950.9 424.5h0M1737.6 520.1h0M1847.9 444.8h0M1825.9 548.3h0M1640.5 432.8h0M1915.7 478.8h0M1695.4 458.1h0M1780.4 426.7h0M1733.4 469.7h0M1800.3 503.7h0M1714.8 457.4h0M1645.5 463.6h0M1767.2 460.9h0M1796.7 416.3h0M1855.6 467h0M1862.4 418.8h0M1740.2 469.6h0M1700.4 513h0M1756.8 404.4h0M1842 433.6h0M1782.7 498h0M1666.6 526.4h0M1826.4 395.2h0M1860 423.8h0M1690.4 536.4h0M1737.2 425h0M1843.3 394.9h0M1671 500.4h0M1694.6 424.9h0M1722.6 411.5h0M1642.1 462.6h0M1710 457.7h0M1679.5 474.3h0M1789.7 493.6h0M1700 436h0M1649 478.2h0M1829.6 497.6h0M1819.2 509.1h0M1903.9 465.8h0M1809.1 428.2h0M1793 499.9h0M1704.3 551h0M1829.2 474.4h0M1931.7 468.4h0M1784.4 447.7h0M1751.2 443.9h0M1733.9 503.5h0M1695.7 456.4h0M1830.7 513.9h0M1768.5 453.1h0M1650.8 498.1h0M1694.2 444.9h0M1823.5 442.2h0M1805.9 485.3h0M1701 462h0M1867.9 476.1h0M1906.7 249.9h0M1739 268.5h0M1696.8 303.5h0M1724.4 307.1h0M1789.9 317.4h0M1812.5 333.7h0M1691.8 339.7h0M1784.3 338.4h0M1829.5 344.7h0M1799.2 348h0M1856.8 351.4h0M1862.4 352.4h0M1675.8 357.4h0M1977.6 340.1h0M2023.5 344h0M1782.6 355.7h0M1731.7 362.3h0M1777 362h0M1763.6 364h0M1704.1 364.7h0M1822.2 360h0M1834.2 362.7h0M1843.8 366.3h0M1453.6 495.7h0M1480.9 520.4h0M1511.5 444.8h0M1518.5 457.2h0M1523.1 455.2h0M1536.8 429.9h0M1539.1 447.8h0M1550.4 416.6h0M1578 380.6h0M1532.8 514h0M1542.8 535h0M1538.1 551h0M1557.1 503.7h0M1556.4 513.7h0M2081.3 492.1h0M1992.5 509h0M1986.5 519h0M1983.5 382.3h0M1974.9 393.3h0M1984.9 404.3h0M1978.5 428.5h0M1979.9 438.5h0M1964.2 425.2h0M1953.3 412.2h0M1965.6 499.7h0M1960.3 467.8h0M1969.9 566.3h0M1941 559.3h0M1947.9 540.3h0M1614.6 578.9h0M1642.6 578.9h0M1666.5 583.2h0M1696.1 574.3h0M1711.4 583.9h0M1731 568.6h0M1736 596.2h0M1697.8 598.5h0M1682.8 607.5h0M1626.9 619.5h0M1540.8 603.9h0M1486.2 617.2h0M1775 574.9h0M1778.6 587.2h0M1791.6 577.6h0M1803.6 574.9h0M1771.6 608.5h0M1764.6 616.5h0M1840.2 609.2h0M1876.1 598.5h0M1864.1 566.3h0M1761.7 646.1h0M1902.4 681.7h0M1590.7 693h0M1718.4 734.9h0" stroke="#000" stroke-width="7.3" stroke-linecap="round" fill="none"/>
<polygon points="1455,466.6 1470.7,466.4 1486.3,466.2 1502,466 1517.6,465.8 1533.2,465.6 1548.9,465.3 1564.5,465.1 1580.2,464.9 1595.8,464.7 1611.5,464.4 1627.2,464.2 1642.8,463.9 1658.5,463.6 1674.1,463.3 1689.8,462.9 1705.4,462.5 1721,462.1 1736.7,461.6 1752.3,461 1768,460.3 1783.7,459.6 1799.3,458.7 1815,457.8 1830.6,456.9 1846.2,455.9 1861.9,454.9 1877.5,453.9 1893.2,452.9 1908.8,451.8 1924.5,450.7 1940.2,449.7 1955.8,448.6 1971.5,447.5 1987.1,446.4 2002.8,445.3 2018.4,444.2 2034,443.1 2049.7,442 2065.3,440.9 2081,439.8 2081,460.2 2065.3,460.4 2049.7,460.6 2034,460.8 2018.4,461 2002.8,461.2 1987.1,461.4 1971.5,461.6 1955.8,461.8 1940.2,462 1924.5,462.3 1908.8,462.5 1893.2,462.7 1877.5,463 1861.9,463.3 1846.2,463.6 1830.6,463.9 1815,464.3 1799.3,464.7 1783.7,465.1 1768,465.7 1752.3,466.3 1736.7,467 1721,467.8 1705.4,468.7 1689.8,469.6 1674.1,470.5 1658.5,471.5 1642.8,472.5 1627.2,473.5 1611.5,474.6 1595.8,475.6 1580.2,476.7 1564.5,477.8 1548.9,478.9 1533.2,479.9 1517.6,481 1502,482.1 1486.3,483.2 1470.7,484.3 1455,485.4" fill="#999" fill-opacity="0.4"/>
<line x1="1455" y1="476" x2="2081" y2="450" stroke="#3759dc" stroke-width="3.7"/>
</g>
<g id="p3">
<rect x="553.8" y="868" width="706.2" height="688.7" fill="#ebebeb"/>
<path d="M553.8 905H1260M553.8 1077H1260M553.8 1248H1260M553.8 1419.5H1260M623.3 868V1556.7M803.7 868V1556.7M984.1 868V1556.7M1164.5 868V1556.7" stroke="#f5f5f5" stroke-width="1.9" fill="none"/>
<path d="M553.8 990.3H1260M553.8 1163H1260M553.8 1333H1260M553.8 1505.3H1260M713.5 868V1556.7M893.9 868V1556.7M1074.3 868V1556.7M1254.7 868V1556.7" stroke="#f9f9f9" stroke-width="2.5" fill="none"/>
<rect x="574.3" y="884.8" width="288.7" height="51.9" fill="#fff"/>
<path d="M897.1 1219.1h0M818.6 1171.9h0M902.3 1296h0M842.4 1235.4h0M906.3 1138.9h0M958.2 1111.3h0M729.7 1123.6h0M876.3 1119.2h0M910.8 1184.9h0M849.6 1195.9h0M762.3 1172.7h0M825.8 1278.3h0M894.1 1262.6h0M887.2 1205.6h0M789.2 1206.9h0M760.9 1265.9h0M840.6 1347.2h0M791.5 1206.7h0M880.4 1248.2h0M955.7 1301.1h0M914.9 1167.6h0M792.5 1165.2h0M976.1 1278.6h0M827.1 1247.6h0M856.2 1192.6h0M957.7 1174.3h0M875 1310.6h0M870.3 1224.1h0M879.6 1128.6h0M858 1284.8h0M894.9 1246.5h0M989.6 1193h0M783.4 1227.1h0M717.9 1185.2h0M911.4 1362.5h0M842.1 1214.4h0M881.5 1184.8h0M942.8 1131.1h0M900.1 1131.5h0M821.5 1271.9h0M904.9 1160h0M721.2 1133.8h0M709.7 1267h0M963.6 1142h0M908.5 1101.3h0M1023.9 1187.9h0M882.9 1137.1h0M849.2 1195.7h0M841.9 1119.9h0M883.4 1269h0M835.9 1179.1h0M897.7 1173.7h0M775.7 1151.7h0M837.9 1134h0M829.9 1303.8h0M878.7 1158.5h0M961.7 1193h0M830.8 1233.3h0M884.4 1128.8h0M1014.5 1160.9h0M894 1169.8h0M952.4 1176.1h0M899 1284h0M930.7 1160.7h0M980.6 1265.2h0M944.7 1253h0M978.1 1165.6h0M787.3 1265.1h0M973.9 1333h0M796.2 1096.3h0M807.7 1199.7h0M900.9 1181.6h0M821.3 1106.1h0M811.5 1098.5h0M891.6 1227.3h0M839.1 1137.3h0M914.2 1147.8h0M926.9 1345.7h0M975.1 1188.4h0M769.4 1173.5h0M889.7 1203.3h0M998.6 1191.7h0M836.1 1077.3h0M836.6 1166.5h0M901.1 1124.1h0M996.5 1204.8h0M892.3 1200h0M945.6 1211.1h0M942 1152.8h0M785.1 1192.9h0M780.4 1329h0M856.2 1255.7h0M904.3 1129.9h0M881.3 1285.5h0M896.5 1310.2h0M981.9 1261.5h0M906.7 1212.6h0M879.1 1201.7h0M945.9 1191.5h0M841.1 1317.8h0M902.9 1175.3h0M891.1 1261.9h0M877 1184.1h0M756.8 1187.9h0M974.8 1146.2h0M776.1 1314.6h0M950.1 1157.6h0M896.8 1135.4h0M1074.4 1174h0M805 1224.2h0M799.6 1295.5h0M992.2 1306.1h0M945.7 1339.6h0M844.8 1115.2h0M1027.2 1262.9h0M821.7 1168.7h0M878.9 1213.6h0M870.7 1195.5h0M889.6 1234.6h0M949.1 1199.1h0M931.1 1075h0M972.2 1246.3h0M746.5 1179.9h0M953 1361.9h0M828.4 1127.1h0M881.4 1126.2h0M795.7 1283.3h0M992.5 1163.9h0M885.4 1173.4h0M782.6 1112h0M880.2 1213.7h0M744.5 1154.4h0M931.5 1172.3h0M915.5 1121h0M967.9 1228.5h0M1015.6 1236.6h0M863.2 1180h0M840 1211.4h0M863.3 1271.1h0M991.4 1218.2h0M852.9 1170.3h0M849.8 1147.6h0M806.6 1120.6h0M974.7 1099.1h0M839.8 1138.7h0M851.4 1309.7h0M931 1181.6h0M948.7 1185.4h0M892.8 1129.8h0M901.6 1267.7h0M893.5 1090.4h0M801.8 1088.7h0M904.4 1278.5h0M801.3 1154.7h0M930.4 1145.6h0M948.3 1148.1h0M811.5 1125.2h0M1060.8 1170.7h0M894.3 1208.9h0M1064.9 1126h0M807.9 1117.7h0M969.2 1134.6h0M865.8 1301.2h0M943.3 1128.5h0M802.1 1183h0M811 1302.9h0M861.7 1144.4h0M862.4 1196.4h0M888.7 1127.8h0M893.6 1292.6h0M884.9 1150h0M843.5 1153.1h0M805.2 1245.5h0M919 1184.8h0M813.6 1185.6h0M917.6 1195.9h0M902.9 1113.5h0M910.3 1186.7h0M864.1 1137.7h0M848.4 1205.7h0M917.7 1206.8h0M858.3 1239.4h0M937.5 1213.4h0M930.7 1155.1h0M953.1 1226.7h0M763.7 1242h0M985.9 1210.8h0M979.9 1184.6h0M930.2 1103.2h0M841.1 1293.4h0M920.8 1325.4h0M887.9 1182.4h0M835.9 1230.9h0M906.7 1270.2h0M892.1 1251.3h0M991.2 1222.7h0M928.9 1133.6h0M948.1 1191.6h0M747.6 1180.2h0M976 1222.1h0M895.7 1253.1h0M886 1237.6h0M1046.7 1275.1h0M923.6 1254.2h0M893.5 1264.2h0M883 1194.5h0M1015.2 1190.5h0M811.9 1188.8h0M966.2 1271.6h0M816.5 1225.1h0M763 1279.1h0M940.4 1165.8h0M875.9 1279h0M821.8 1215.1h0M956.4 1213.9h0M903.4 1175h0M915.8 1264h0M858.4 1288.2h0M1072.9 1194.8h0M1031.9 1184h0M907.3 1230h0M752.1 1113.6h0M830.3 1190.9h0M951.5 1174.1h0M818.7 1177.7h0M996.6 1191.4h0M866 1184.5h0M756.6 1138.2h0M1119.8 1259h0M959.7 1346.8h0M864.8 1288h0M956.1 1163.2h0M1047.4 1233h0M718.6 1251.2h0M935.2 1246h0M748.2 1230.1h0M867.9 1160.7h0M693.8 1295h0M994.8 1339.7h0M738.4 1147.8h0M852.8 1204.6h0M927.1 1102.2h0M887.4 1177.9h0M849.5 1160.9h0M894.4 1333.7h0M1013.3 1244.7h0M1024 1188.5h0M871.4 1204.8h0M889.6 1130h0M1097.7 1184.8h0M943.8 1247.6h0M878.8 1265.7h0M907.7 1311.6h0M904.3 1164.5h0M725.2 1162.2h0M955.4 1239.6h0M758.5 1258h0M838.4 1239.2h0M714.2 1181.2h0M839.9 1226.7h0M1036.6 1179.1h0M830.5 1142.6h0M935.3 1155.5h0M892.4 1074.6h0M887.2 1223.8h0M952.6 1197.6h0M934.4 1224.5h0M768.8 1191.8h0M915.3 1112h0M906.2 1121.5h0M872.2 1192.4h0M905.1 1156.9h0M833.2 1197.1h0M1123.3 1125.6h0M823.1 1257.9h0M854.4 1196.8h0M812.8 1170.8h0M769.8 1176.4h0M880.7 1087.7h0M967.3 1235.4h0M818.9 1246.8h0M794.1 1151.3h0M916.4 1282h0M979.6 1156.5h0M889.5 1221.4h0M854 1090.7h0M898.4 1205.1h0M924.9 1256.1h0M973.4 1349.1h0M919.3 1207.5h0M815.4 1193.3h0M962.5 1167.3h0M872.5 1206.9h0M796.5 1199.6h0M811.9 1185.4h0M802.9 1214.2h0M877.7 1252.5h0M906 1311.2h0M989.9 1190.3h0M913.5 1154.6h0M961.8 1197.1h0M958.5 1205.5h0M988.2 1165.1h0M880.4 1285.6h0M1001.9 1153.2h0M1007.9 1186.6h0M865.4 1267.1h0M859.4 1228.5h0M840.3 1225.5h0M849.8 1168.3h0M899.6 1161.8h0M995 1209h0M1002.8 1236.4h0M824.4 1259.7h0M1060.3 1316.4h0M811.7 1249.5h0M961.8 1190.1h0M954.5 1189.9h0M981.4 1179.5h0M929.9 1139.2h0M759.1 1200.8h0M883.4 1273.2h0M989.2 1194.7h0M947.5 1273.3h0M875.5 1187.9h0M817.8 1276.2h0M937.7 1144.2h0M931.5 1169.6h0M929.7 1327.2h0M838.7 1175.6h0M902.4 1200.4h0M737.9 1189.3h0M929.7 1150.7h0M877.7 1217.9h0M743.1 1137h0M811.9 1318.1h0M954.3 1109.7h0M868.9 1194.4h0M1051.5 1205.3h0M811.3 1243.5h0M970.2 1191.4h0M722.5 1185.5h0M866.1 1149.1h0M775.6 1210.6h0M997.8 1124.3h0M861.4 1272.7h0M836.3 1264.9h0M864.1 1129h0M835.5 1061.1h0M841.6 1234.8h0M1000.2 1121.6h0M998.9 1146.7h0M887.3 1098.1h0M877 1210.1h0M878.2 1281.9h0M897 1152.7h0M916.4 1139.7h0M966.7 1220.1h0M1076.5 1360.8h0M792.6 1217.5h0M849.4 1185.7h0M962.6 1169.7h0M791.2 1198.1h0M881.1 1274.7h0M941.4 1221.6h0M885.8 1178.4h0M801.6 1300h0M831.1 1169.3h0M911.1 1151.9h0M720.3 1201.5h0M954 1111.8h0M1053.5 1214.4h0M852.1 1276.9h0M1011.1 1202.8h0M951.3 1156.9h0M901.6 1138.1h0M905.5 1369.9h0M767 1149.3h0M882.5 1229.9h0M853.8 1147.8h0M815.5 1239.9h0M807.6 1177.4h0M941.3 1158.5h0M737 1131.9h0M864.1 1148.2h0M896.6 1191.9h0M884 1144.5h0M917 1243.6h0M853.3 1267.1h0M997 1295.9h0M881.7 1258.7h0M915.4 1163.4h0M743.7 1147.8h0M975.2 1267.2h0M880.3 1146.2h0M875.2 1242.7h0M879 1195.7h0M821.2 1109.6h0M1011.9 1209.3h0M954.5 1288h0M837.5 1178.4h0M953.3 1282.3h0M1001.3 1293.7h0M762.3 1194.2h0M863.3 1265.8h0M815.5 1307.1h0M916.3 1264.8h0M856.8 1137.6h0M1001.9 1162.8h0M1075.5 1162h0M917.9 1227.7h0M966.6 1164.1h0M912.7 1253.4h0M926.1 1190.1h0M834.6 1301.9h0M885.8 1250.8h0M1008.5 1216.9h0M849.7 1236.6h0M1020 1223.1h0M1030.5 1203.9h0M793.2 1111.9h0M822.4 1291.1h0M1047.9 1265.3h0M879.4 1204h0M850.3 1196.8h0M747.2 1222h0M913.5 1258.5h0M965 1095.8h0M843.9 1245.1h0M1033.7 1212.9h0M772.7 1307.8h0M899.5 1183.3h0M1008.2 1232.7h0M1014.6 1115.8h0M921.5 1261.4h0M931 1148.4h0M902.4 1152.8h0M785.6 1171h0M778.4 1100.3h0M932.9 1344.1h0M837.2 1266.9h0M868.2 1324.6h0M795.3 1119.3h0M923.9 1110.9h0M944.1 1237.9h0M951.8 1237.2h0M869.5 1228.8h0M708.8 1186.9h0M797.8 1271.7h0M983.5 1204.7h0M952.1 1150.5h0M816.8 1308.7h0M1033.8 1190.3h0M881.4 1061h0M905.1 1135.2h0M887.4 1340.3h0M893.1 1286.6h0M867.4 1265.5h0M872.4 1116.1h0M1040.7 1144.7h0M818 1128.8h0M1025 1366.8h0M834 1251.6h0M967.5 1215.8h0M950.4 1159h0M745.5 1175.6h0M884.3 1138.1h0M936.9 1107.4h0M814 1255.5h0M971.9 1172.4h0M763.8 1313.2h0M806.2 1213.1h0M906 1104.7h0M938.2 1211.9h0M919.8 1077.3h0M1013.9 1134h0M891.6 1132.5h0M851.7 1168.6h0M954.4 1158.9h0M921.8 1189.8h0M1130.7 1250.2h0M881.9 1144.5h0M1029.8 1135.6h0M862.2 1171.9h0M861.9 1186.1h0M1041.7 1228.8h0M967.1 1304.5h0M1000.5 1318.6h0M964.3 1289h0M933.7 1140.5h0M841.4 1190.1h0M937.7 1105.4h0M1001.2 1247.9h0M889 1238.8h0M745.5 1259.1h0M730.4 1279h0M886.9 1301.5h0M911.7 1307.6h0M859.2 1207.2h0M1036.8 1133.7h0M783.8 1252.3h0M856.8 1315.6h0M801.1 1310.4h0M1036.5 1216.1h0M891 1290.8h0M897.1 1200.7h0M844.7 1346h0M1062.3 1118.4h0M962.7 1243.2h0M836.5 1201.2h0M779.2 1262.4h0M930.9 1288.4h0M898.9 1358.8h0M864.9 1254h0M819.6 1205.6h0M719.1 1193h0M857.3 1093.7h0M893.4 1204.9h0M954.2 1117.3h0M1015.1 1148.2h0M994.1 1168.7h0M917 1276h0M822.1 1135.8h0M819.8 1146.6h0M816.7 1209.4h0M831.2 1209.5h0M926 1155.4h0M816.5 1142h0M974.7 1142h0M997.1 1161.5h0M804.9 1148.7h0M1088.5 1164.1h0M847.4 1188.7h0M913.7 1348.6h0M1024.4 1212.5h0M770 1194.1h0M875.6 1064.4h0M862.9 1171.2h0M876.9 1227.9h0M815.1 1221.7h0M863.9 1162.7h0M891.9 1284.6h0M1031.1 1254.2h0M965.9 1103.4h0M783.5 1176.1h0M851.7 1206.1h0M940.6 1107.3h0M860.7 1126.7h0M808.5 1199.7h0M946.7 1133.4h0M816 1233.5h0M1006 1162.7h0M926.9 1272.2h0M989.6 1203.3h0M1006.6 1186.5h0M911.5 1202.9h0M871.6 1255.5h0M954.2 1220.6h0M702.8 1198.2h0M829.9 1206.3h0M956.1 1153.6h0M734.8 1254.6h0M968.1 1136.8h0M872.7 1134.6h0M1048.8 1147.4h0M1000.1 1275h0M998.8 1139.2h0M775.2 1113.9h0M837.9 1368h0M840.6 1258.3h0M939.8 1119.9h0M1018.1 1161.7h0M986.4 1203.8h0M863.6 1151.5h0M906.7 1281.8h0M759.4 1232.5h0M937.1 1271.6h0M813.3 1269.1h0M707 1280.3h0M870.1 1111.4h0M795.2 1178.6h0M694.8 1260.6h0M803.2 1250.8h0M761.8 1338.8h0M918.8 1210.9h0M856.9 1273.2h0M995.7 1145.8h0M1063.8 1213.9h0M1094.3 1216h0M961.6 1121.2h0M1003.1 1157.3h0M912.5 1197.4h0M861.5 1181.5h0M788.9 1244.8h0M839.8 1114.5h0M928.7 1136h0M990.5 1269.7h0M870.9 1130.7h0M924.2 1279.1h0M1002.2 1255.5h0M941.3 1224.7h0M916.9 1269.5h0M1049.7 1184.4h0M889.1 1182h0M869.8 1118.9h0M869.1 1357.6h0M979.3 1131.7h0M956.1 1328h0M950.1 1217.3h0M895.3 1180.7h0M949.7 1234.9h0M779.2 1311.1h0M986.5 1297.8h0M968.5 1179.2h0M889.5 1197.2h0M907.9 1187h0M927 1140.3h0M892.4 1162.1h0M843.3 1347.4h0M936.6 1192.1h0M925.4 1190.5h0M923.9 1300.3h0M1081.7 1135.1h0M808.8 1334.9h0M891.9 1265.6h0M799.2 1179.4h0M909.1 1190.2h0M836.8 1175.4h0M943.5 1307.4h0M886.8 1171.5h0M813.2 1191.2h0M958.3 1201.9h0M929.6 1180.4h0M949.4 1216.3h0M983.7 1283.8h0M828.3 1314.2h0M832 1126.3h0M853.2 1100.5h0M784.3 1126.4h0M836.9 1194.9h0M968.6 1173.3h0M824.4 1329.2h0M799.9 1201.1h0M939.2 1330.7h0M849.5 1193.3h0M919 1207.3h0M905.6 1066.9h0M906.9 1118.7h0M864.8 1223.6h0M818.7 1258.4h0M853.1 1113.2h0M954.4 1094.5h0M960.2 1171.1h0M798.7 1297.8h0M917.7 1087.4h0M982.9 1320.4h0M1006.8 1155h0M897.1 1228.3h0M979.8 1291.6h0M777.7 1227.6h0M855.1 1355h0M830.7 1207.1h0M830 1228.2h0M857.3 1322.1h0M967.6 1233.4h0M1025.2 1190.8h0M813.3 1184.5h0M866.7 1236.6h0M838.6 1199.7h0M832 1125.8h0M744.6 1211.2h0M839.1 1136.6h0M1061.7 1107.3h0M949.8 1172.4h0M988.7 1321.4h0M870.7 1275.9h0M1073 1154.7h0M786.9 1356.4h0M702.7 1196.8h0M1065.6 1169.4h0M949.2 1312.3h0M988.5 1231.7h0M903.8 1198.9h0M804.2 1143.9h0M775.1 1288.5h0M888.8 1149.9h0M938.6 1250.4h0M984.3 1159h0M759 1258.9h0M860.4 1284.4h0M990.9 1377.5h0M903.6 1181.2h0M953.7 1290h0M1035.3 1133.8h0M999 1245.8h0M835.2 1170.8h0M997.9 1112.9h0M950.7 1236.2h0M1030.6 1227.8h0M946.6 1327.7h0M1009.8 1176.4h0M811.7 1084.5h0M836.5 1235.9h0M1023 1212.2h0M834.6 1150.6h0M849.1 1199.3h0M772.5 1185.4h0M911.1 1334.4h0M869.4 1097.3h0M748.6 1256.6h0M902.5 1158.2h0M1020.3 1149.7h0M826 1264.5h0M797.3 1114.9h0M980.7 1212.3h0M872.7 1183.5h0M1066.9 1072.1h0M926.2 1159.9h0M974.2 1205.3h0M958 1068.6h0M773.1 1194.5h0M845.3 1270.6h0M885.6 1079.1h0M904.9 1153h0M1063 1115.5h0M825.8 1288.5h0M926.2 1151.4h0M990.7 1136.8h0M1021.7 1197.3h0M963 1309.4h0M1000.9 1169.7h0M906 1183.4h0M756.4 1144.1h0M1069.7 1238.3h0M851.5 1194h0M801.8 1139.4h0M868.8 1132.2h0M873.8 1273.5h0M870.6 1207.5h0M838.2 1174.4h0M953.9 1289.9h0M862.4 1172.7h0M857.2 1166.7h0M912.7 1124.1h0M984.7 1158h0M832.3 1282.8h0M826.3 1176.6h0M913.9 1209.3h0M730.1 1221.6h0M921.1 1171.9h0M885.3 1163.4h0M815.7 1288.1h0M981.2 1178.2h0M882 1231.8h0M918.1 1154.4h0M1043 1173.9h0M1025.9 1272.4h0M861.9 1372.5h0M945.1 1184.5h0M779.5 1231.7h0M875.9 1125.2h0M868.1 1107.9h0M844.8 1145h0M863.3 1161.4h0M982.2 1238.9h0M915.8 1245.2h0M803.3 1172.3h0M1039.4 1287.4h0M791.5 1213.9h0M904.1 1185.1h0M862.3 1261.6h0M871.2 1191.1h0M968.6 1177.4h0M862.5 1106.3h0M803.9 1250.9h0M751.3 1144.2h0M824.8 1126.6h0M875.9 1226.4h0M923.9 1149.4h0M948.2 1198.3h0M801.4 1213.2h0M874.3 1150.2h0M1115.4 1169.7h0M834.8 1301.9h0M828.6 1186.1h0M898.1 1162.2h0M777.8 1187.7h0M1070.3 1242.5h0M1001.2 1268.3h0M992.3 1185.9h0M912.8 1218.7h0M718.7 1209h0M749.5 1253.7h0M905.4 1320.1h0M790.9 1277.9h0M933.8 1264.7h0M844.9 1147.8h0M888.3 1107.3h0M947.8 1190.6h0M730.7 1154.9h0M899.9 1160.5h0M891.9 1198.5h0M959.3 1165.3h0M936 1278.5h0M910.6 1199.6h0M986.4 1263.5h0M974.2 1202.7h0M906.5 1124h0M819.2 1355.5h0M910 1099.2h0M861.9 1340.2h0M699.3 1209.6h0M1044.3 1072.9h0M847 1372.8h0M880.5 1279.4h0M844.9 1251.6h0M739.6 1353.5h0M843.4 1224.2h0M777.9 1170.7h0M903.3 1279.8h0M940.4 1239.8h0M917.1 1137.8h0M937 1196.6h0M907.2 1149h0M886.5 1147h0M960.5 1157.7h0M870.7 1178.9h0M830.8 1172.2h0M874.2 1311.1h0M874.2 1317.1h0M930.5 1261.1h0M1011.9 1166.9h0M967.3 1266.6h0M893 1266.5h0M865.9 1276.4h0M779.7 1228.4h0M825 1232h0M758.8 1133.5h0M763.7 1218.7h0M953.2 1118.8h0M909.4 1255.7h0M794.6 1275.2h0M929.6 1158h0M906.6 1258.6h0M907.2 1186.7h0M916 1198.8h0M931.9 1107.7h0M935 1216.5h0M791.3 1107.7h0M937.1 1352.3h0M820.1 1259.7h0M959.9 1236.2h0M922 1286.1h0M774.5 1307.4h0M941.9 1212h0M836.4 1313.2h0M941.5 1223.1h0M941.4 1250.4h0M941.9 1357.1h0M885.7 1263.4h0M951.9 1094.5h0M792.8 1150h0M871 1257.9h0M840.4 1256.7h0M818.2 1160.2h0M850.1 1131.2h0M878.6 1135.7h0M777.2 1235.3h0M987.3 1270.7h0M956 1105.4h0M1002.2 1179.5h0M930.4 1079.7h0M962.9 1200h0M980.7 1129.3h0M853.2 1146.2h0M809.6 1341.2h0M1072.1 1122.3h0M791.4 1118h0M956.6 1115.7h0M826.8 1209.5h0M949.3 1083.5h0M946.4 1168.7h0M747.9 1118.5h0M867 1128h0M1034.6 1171.1h0M1015.9 1226.5h0M843.5 1102.9h0M854.7 1185h0M945.6 1211.6h0M813 1159.8h0M787.6 1132.4h0M907.2 1155.9h0M877.7 1134.5h0M1062.7 1148.6h0M1018.2 1303.1h0M1074.4 1198.6h0M876.7 1242.3h0M881.4 1292.6h0M805.2 1259.3h0M993.3 1126.7h0M939.4 1325.8h0M916.2 1179h0M834.1 1282.9h0M833.4 1263.8h0M983.8 1144.6h0M987.7 1152.8h0M969.9 1309.7h0M884.9 1243h0M835.4 1210.8h0M892.9 1157.4h0M968.9 1142.4h0M858.4 1096.5h0M832 1265h0M827.4 1116.6h0M891.2 1183.9h0M841.6 1277.6h0M962.2 1297.9h0M964.1 1169.1h0M838.7 1271.4h0M876.4 1177.4h0M925.4 1144.3h0M919.6 1196.9h0M987.1 1188h0M802.8 1161h0M1004.4 1075.1h0M823.9 1139.2h0M920.4 1241.4h0M928.6 1261h0M959.8 1205.9h0M888.6 1193.5h0M932.3 1164.1h0M962.8 1089.2h0M957.5 1092.3h0M977.6 1180.1h0M818 1260h0M872.9 1271.7h0M864.9 1210.4h0M999.5 1218.2h0M892.9 1149.1h0M903.8 1152.7h0M835 1272.1h0M972.3 1160.5h0M795.6 1243.8h0M1083.5 1285.2h0M878.4 1226.5h0M1025.8 1261.8h0M836.5 1300.6h0M876.6 1285.6h0M872.4 1169.4h0M973.1 1119h0M831.5 1253.4h0M898.4 1092.8h0M767.1 1224.8h0M895.5 1348.3h0M949.4 1205.5h0M982 1275.2h0M989.8 1231.4h0M938 1118.2h0M1057.6 1209.4h0M927.6 1173.3h0M695.5 1105.6h0M892.8 1181.7h0M824.1 1123.4h0M886.2 1180.9h0M854.5 1347.8h0M748.5 1223.2h0M937.8 1126h0M827.9 1129.4h0M887.4 1250.2h0M895 1266.1h0M975.8 1106.9h0M965.3 1108.1h0M888.4 1167.1h0M960.9 1329.8h0M904.7 1185.2h0M911 1245.3h0M901.3 1155.3h0M884.5 1188.7h0M1035.2 1183.2h0M993.9 1146.8h0M895.5 1215.6h0M846.4 1202h0M700.1 1209.6h0M804.4 1115.7h0M864.3 1352.1h0M903.7 1232h0M1000.8 1225.2h0M912.5 1296.4h0M808.8 1161.1h0M842.2 1175.8h0M874 1229.3h0M897.8 1350.5h0M912.7 1338.6h0M1064.7 1174.8h0M957.1 1201.4h0M980.3 1245.1h0M985.8 1275h0M777.5 1115.8h0M959.5 1202.1h0M899.8 1198.7h0M835.5 1359.6h0M843.7 1118.4h0M872.8 1153h0M963.7 1180.8h0M870.2 1129.4h0M884.9 1262.8h0M774.9 1143h0M927.2 1189.9h0M984.4 1217.5h0M860.3 1182.8h0M977.9 1198.3h0M868.5 1110.6h0M964.4 1227.4h0M901.9 1260.8h0M984.5 1155.8h0M908.4 1135.4h0M987.1 1163.6h0M871.4 1185.4h0M834.7 1230.4h0M1043.2 1236.2h0M877.5 1110.1h0M822.2 1270.4h0M1043.6 1245.7h0M917.3 1211.6h0M978.2 1149.8h0M836.1 1109.6h0M902.4 1219h0M951.9 1224.4h0M895.1 1314.8h0M927.5 1288.3h0M937.7 1219.8h0M942.1 1189.8h0M867 1133.3h0M919.9 1069.1h0M764.8 1250.4h0M813.2 1294.4h0M789.1 1134.4h0M920.7 1269h0M915.7 1122.4h0M818.2 1189.2h0M906.9 1244.5h0M937.6 1137.3h0M841 1284.9h0M856.9 1287.7h0M1030.1 1227.5h0M967 1146.3h0M769.4 1221.2h0M890.2 1171.9h0M859.7 1153.6h0M1022.1 1217.2h0M844.2 1244.4h0M1033.8 1106.9h0M841.8 1297.1h0M987.7 1153.3h0M799.3 1163.2h0M1002.6 1291.9h0M806 1193.2h0M1025 1215.4h0M798.7 1228.3h0M826.5 1175.7h0M812.6 1143.4h0M835.5 1172.8h0M1049.4 1080.7h0M900.6 1191.7h0M867 1272.5h0M885.8 1197.4h0M882 1271.5h0M912.3 1193.2h0M824 1134.8h0M834.2 1133.7h0M943.2 1086h0M899.8 1190.4h0M903.1 1159.3h0M802.5 1194.7h0M802.9 1194.4h0M1108.3 1133.3h0M955 1200.7h0M932.9 1203.5h0M921.5 1229h0M986.2 1223.7h0M800.3 1192.5h0M861.7 1205.6h0M1032 1350.9h0M932.2 1181.1h0M935.3 1201.2h0M908.1 1134.5h0M834.2 1239.1h0M993.4 1192.2h0M815.8 1245.3h0M914.1 1201.6h0M719.3 1227.9h0M1003.2 1070.5h0M749.7 1324.1h0M907 1163.4h0M867.3 1247.2h0M979.8 1171.3h0M863.1 1223.8h0M928.9 1210.1h0M830.5 1308h0M816.6 1194.1h0M959.7 1125.1h0M935.1 1316.1h0M758 1274.4h0M879.5 1280.9h0M863.9 1170.3h0M1023.2 1059.5h0M1053.4 1168.1h0M897.4 1190.3h0M854.8 1179.4h0M926.4 1145.5h0M884.3 1294.1h0M826.6 1227.4h0M944.2 1225.2h0M941.6 1328h0M893.4 1171.4h0M942.5 1189.3h0M735.8 1229.1h0M967.7 1114.4h0M850 1227.6h0M826.4 1163.1h0M816.3 1088.4h0M902.4 1264.4h0M841.1 1224.8h0M950.6 1218.2h0M897.2 1201.1h0M975.8 1320.7h0M949 1149.4h0M811.9 1256.8h0M869.4 1342.5h0M938.2 1186.3h0M894.1 1227.2h0M927.1 1287.9h0M757.7 1142h0M991.3 1238.5h0M819.7 1127.7h0M905.9 1143.7h0M953.7 1211.6h0M711.1 1188.3h0M874.1 1171.3h0M960 1191.3h0M811.5 1161.9h0M808.5 1122.4h0M1002.7 1207h0M885.4 1178.2h0M846.3 1305.2h0M961.5 1246.6h0M796.3 1188.3h0M956.1 1228.6h0M910.6 1148.7h0M814.2 1274.6h0M877.8 1374.4h0M797.1 1199.8h0M882.9 1242.9h0M849.7 1168.5h0M933 1252.7h0M771 1241.3h0M871.8 1106h0M833 1197.3h0M901.5 1206h0M842 1146h0M859 1261.2h0M909.2 1144.1h0M977.4 1277.3h0M800.1 1280.7h0M874.3 1222.6h0M965 1195.7h0M838 1237.3h0M981 1277.3h0M942.4 1242.1h0M970.5 1177.1h0M872 1111.7h0M955 1299.6h0M817.5 1307.6h0M1079.5 1193.6h0M983.6 1318.9h0M1034.2 1174.2h0M863.5 1100.5h0M978.5 1348.9h0M958.2 1179.9h0M871.1 1146.5h0M673.1 1219h0M946.7 1119h0M732.7 1309.7h0M793.5 1197.3h0M940.6 1223.6h0M840.9 1206.2h0M824.1 1130.3h0M815.1 1279.9h0M974.5 1323h0M965.3 1137.4h0M953.7 1308.3h0M985.5 1194.9h0M804.8 1274h0M942.1 1107.2h0M806.5 1263h0M858.3 1285.7h0M902.9 1167.1h0M924.1 1227.9h0M947.5 1145.7h0M897.6 1154.7h0M760.2 1257h0M722.8 1096.4h0M854.6 1227h0M864.3 1132.3h0M915 1138.7h0M995.1 900.3h0M895.4 936.4h0M987.3 963.1h0M921.7 967.6h0M967.6 971.7h0M971.3 988.9h0M858.1 990.2h0M823.3 999.2h0M715.4 996.7h0M871.2 1008.2h0M786.8 1015.6h0M928.2 1014.8h0M1043.1 1016h0M827.8 1027.1h0M950.8 1028.3h0M888.9 1035.3h0M914.7 1039.4h0M1033.6 1042.2h0M996.7 1043.5h0M977.9 1046.7h0M897.9 1052.1h0M917.6 1049.6h0M1051.7 1055.8h0M1040.2 1059h0M872.1 1052.9h0M875.8 1057h0M879 1062.7h0M920.9 1061.1h0M933.2 1061.9h0M940.5 1061.9h0M957.8 1066h0M924.6 1070.1h0M934 1068.5h0M779 1069.3h0M775.3 1082.8h0M799.9 1084.9h0M619.9 1123.8h0M702.7 1093.9h0M710.1 1105.8h0M658 1161.2h0M653.5 1189h0M672.4 1198.5h0M675.6 1206.7h0M586.7 1244h0M614.1 1237h0M645.3 1259.6h0M668.3 1254.2h0M671.5 1260.8h0M667.4 1309.2h0M690 1309.6h0M692 1320.7h0M681.8 1386.3h0M1228 1219.8h0M1168.1 1254.2h0M1137 1262.8h0M1128.4 1093.1h0M1134.9 1121.4h0M1087.4 1095.1h0M1109.1 1143.9h0M1130 1164.4h0M1113.2 1183.7h0M1097.6 1168.9h0M1123.4 1417h0M720.7 1379.7h0M746.2 1373.6h0M743.3 1392h0M765 1403.1h0M765.4 1408h0M801.1 1394.1h0M820 1404.7h0M862.2 1407.6h0M869.6 1419.1h0M900.4 1418.7h0M915.5 1402.3h0M947.5 1407.6h0M965.2 1402.3h0M986.5 1399h0M982.8 1422.8h0M944.6 1424.8h0M926.2 1427.3h0M931.9 1431.8h0M938.5 1440.4h0M802.8 1437.1h0M756 1446.2h0M738.8 1465.4h0M888.1 1464.2h0M910.2 1458.5h0M1052.1 1451.9h0M1076.3 1469.9h0M1091.5 1469.1h0M923.7 1491.7h0M938.1 1487.2h0M963.9 1488h0M893.4 1526.9h0M1037.3 1377.3h0M1031.6 1360.4h0M995.5 1378.5h0M1001.6 1379.3h0" stroke="#000" stroke-width="7.8" stroke-linecap="round" fill="none"/>
<polygon points="586.8,1211.3 602.8,1211.3 618.9,1211.3 634.9,1211.4 650.9,1211.4 666.9,1211.4 683,1211.4 699,1211.4 715,1211.4 731.1,1211.4 747.1,1211.4 763.1,1211.4 779.2,1211.3 795.2,1211.2 811.2,1211.1 827.2,1210.9 843.3,1210.6 859.3,1210.3 875.3,1209.8 891.4,1209.3 907.4,1208.6 923.4,1207.8 939.5,1206.9 955.5,1206 971.5,1204.9 987.5,1203.8 1003.6,1202.6 1019.6,1201.5 1035.6,1200.2 1051.7,1199 1067.7,1197.8 1083.7,1196.5 1099.8,1195.3 1115.8,1194 1131.8,1192.7 1147.8,1191.4 1163.9,1190.1 1179.9,1188.8 1195.9,1187.5 1212,1186.2 1228,1184.9 1228,1215.1 1212,1215 1195.9,1215 1179.9,1215 1163.9,1214.9 1147.8,1214.9 1131.8,1214.9 1115.8,1214.8 1099.8,1214.8 1083.7,1214.8 1067.7,1214.8 1051.7,1214.8 1035.6,1214.9 1019.6,1214.9 1003.6,1215 987.5,1215.1 971.5,1215.3 955.5,1215.5 939.5,1215.7 923.4,1216.1 907.4,1216.6 891.4,1217.2 875.3,1217.9 859.3,1218.7 843.3,1219.6 827.2,1220.6 811.2,1221.7 795.2,1222.8 779.2,1224 763.1,1225.2 747.1,1226.4 731.1,1227.6 715,1228.9 699,1230.1 683,1231.4 666.9,1232.7 650.9,1234 634.9,1235.3 618.9,1236.5 602.8,1237.8 586.8,1239.1" fill="#999" fill-opacity="0.4"/>
<line x1="586.8" y1="1225.2" x2="1228" y2="1200" stroke="#3759dc" stroke-width="3.7"/>
</g>
<g id="p4">
<rect x="1404.2" y="873.5" width="714.3" height="680.1" fill="#ebebeb"/>
<path d="M1404.2 954.8H2118.5M1404.2 1197.4H2118.5M1404.2 1438.2H2118.5M1474 873.5V1553.6M1656.8 873.5V1553.6M1839.6 873.5V1553.6M2022.4 873.5V1553.6" stroke="#f5f5f5" stroke-width="1.9" fill="none"/>
<path d="M1404.2 1075.5H2118.5M1404.2 1318H2118.5M1565.4 873.5V1553.6M1748.2 873.5V1553.6M1931 873.5V1553.6M2113.8 873.5V1553.6" stroke="#f9f9f9" stroke-width="2.5" fill="none"/>
<rect x="1409.3" y="887.8" width="262.9" height="51.9" fill="#fff"/>
<path d="M1589.8 1094.5h0M1660.9 1276h0M1835.1 1313.4h0M1817.8 1195.3h0M1826.2 1322.9h0M1688.5 1252.2h0M1744.1 1319.2h0M1671.8 1177.8h0M1781 1221.5h0M1598.8 1233.5h0M1737.2 1181.6h0M1733.9 1219.2h0M1544 1198.3h0M1700.8 1329.1h0M1889.7 1127.4h0M1673.7 1078.6h0M1626.3 1203.4h0M1745.6 1272.6h0M1838 1122.8h0M1733.7 1108.3h0M1754.5 1106.5h0M1737.6 1205.7h0M1680.3 1292.1h0M1717.9 1346.1h0M1716.6 1172.6h0M1709.8 1253.1h0M1765 1313.1h0M1697.6 1225.8h0M1924.4 1177.8h0M1891 1243.5h0M1787.2 1303.6h0M1704.7 1351h0M1795.3 1204.1h0M1665.9 1232.8h0M1703.7 1183.6h0M1600.4 1163.7h0M1762.5 1098.1h0M1754.7 1255.3h0M1720.1 1150.7h0M1691.6 1279.3h0M1608.4 1179.1h0M1709.8 1213.6h0M1741.7 1110.3h0M1933.6 1211.9h0M1666.9 1210.6h0M1803.8 1089.8h0M1812.7 1087.1h0M1675.7 1272.4h0M1902.8 1191h0M1719.8 1305.5h0M1650.4 1225.7h0M1769.2 1283.3h0M1775.2 1178.6h0M1803.9 1107.5h0M1822.1 1144.4h0M1665.2 1172.5h0M1752.2 1259.2h0M1728.6 1261.7h0M1836.7 1190.6h0M1658.7 1278.2h0M1761 1088.2h0M1686 1061.8h0M1784.6 1220.1h0M1764 1319.4h0M1715.9 1177.9h0M1628.3 1222.8h0M1775.7 1090.4h0M1849.5 1331.7h0M1778.1 1188.2h0M1771.3 1037.7h0M1736.4 1198.4h0M1757.2 1248h0M1789.7 1115.1h0M1737.4 1186.3h0M1751.5 1152.5h0M1836.3 1306.2h0M1706.1 1151.5h0M1711.8 1247.5h0M1736.2 1282.5h0M1898.2 1162.7h0M1837.2 1167h0M1632.7 1099.2h0M1719 1045.9h0M1885.5 1102.7h0M1888.5 1226.7h0M1765.8 1179.2h0M1840.7 1226.2h0M1807.8 1178h0M1879.8 1240.2h0M1632.2 1227.1h0M1856.5 1124.9h0M1701.7 1344.7h0M1589.1 1114.8h0M1766.1 1107h0M1615.6 1241.6h0M1858.5 1266.6h0M1785.4 1322.9h0M1776.3 1132.2h0M1932.9 1096.1h0M1741.4 1318.5h0M1678.5 1179.7h0M1586 1231.9h0M1788.5 1253.6h0M1663.7 1222.1h0M1667.5 1163.3h0M1740.8 1307.1h0M1707.9 1216.1h0M1670.9 1155.5h0M1683.8 1188.9h0M1817.3 1108.5h0M1812.9 1121.1h0M1777.8 1154.4h0M1719.6 1168.6h0M1846.9 1218.7h0M1844.1 1167.7h0M1724.5 1332h0M1596 1130.1h0M1729.7 1348.8h0M1690.4 1265.3h0M1889.8 1176.8h0M1729.9 1336.3h0M1695.3 1113.6h0M1821.1 1155.1h0M1863.8 1240.8h0M1586 1225h0M1746.7 1144.5h0M1846.2 1051.6h0M1700.4 1264.8h0M1605.2 1149.2h0M1680.2 1075.9h0M1709.8 1104.5h0M1703.5 1222.3h0M1661.2 1127.8h0M1654.1 1129.6h0M1601.1 1103.4h0M1785.9 1073h0M1719.6 1153.1h0M1736.9 1307.4h0M1729 1098.9h0M1755.6 1118.5h0M1734.1 1330.3h0M1832.7 1286.8h0M1795.4 1197.5h0M1606.2 1164.1h0M1698.8 1257.4h0M1838.5 1238.4h0M1675.2 1354.2h0M1728.2 1217.6h0M1806.3 1208.4h0M1739 1241.7h0M1748.9 1217.7h0M1601.4 1072.1h0M1609.5 1243.7h0M1777.2 1218.7h0M1684.9 1285.5h0M1779.9 1172.3h0M1619.9 1184.7h0M1693.5 1098.9h0M1782.7 1248.1h0M1824 1209.7h0M1726.3 1295.7h0M1664.5 1283.7h0M1696.2 1361.4h0M1728.8 1229.4h0M1621.9 1184.4h0M1636.2 1195.1h0M1797.4 1279.9h0M1714.2 1273.1h0M1716.7 1069.8h0M1805 1187.3h0M1763 990h0M1776.3 1226h0M1848.9 1174.9h0M1950.4 1262.8h0M1791.4 1283.8h0M1721.5 1199.3h0M1810.3 1143h0M1878.1 1116.1h0M1778.2 1187.5h0M1791.1 1312.6h0M1657.4 1250.7h0M1771.2 1280.9h0M1758.5 1171.9h0M1806.6 1321h0M1835.6 1224.1h0M1800.2 1085.7h0M1712.4 1193.3h0M1712.8 1156.6h0M1757.3 1246h0M1938.2 1152h0M1852.3 1223.9h0M1680.7 1340.1h0M1742.5 1186.5h0M1705.5 1138.2h0M1770.3 1133.8h0M1689.7 1233.7h0M1850 1228.8h0M1654.9 1193.5h0M1603.2 1330.7h0M1776.9 1233.3h0M1706.2 1198.8h0M1845.4 1204.4h0M1811.5 1226.7h0M1779.1 1235.5h0M1852.7 1184.2h0M1820.1 1144.1h0M1705.5 1152.6h0M1836.2 1184.2h0M1870.4 1124.8h0M1794.1 1115.4h0M1861.4 1152.1h0M1800.8 1153.7h0M1689.7 1232.1h0M1603.2 1116.2h0M1684.5 1279.2h0M1680.9 1077.9h0M1721.5 1282.5h0M1756.7 1186.5h0M1836.7 1146.7h0M1824.5 1234.7h0M1665.1 1287.8h0M1860.4 1187.9h0M1768.9 1186.5h0M1655.7 1276.3h0M1665.7 1254.1h0M1708.7 1125.6h0M1812.7 1226.8h0M1924.6 1199.5h0M1767.2 1188h0M1876.5 1329.7h0M1665.3 1247.9h0M1762.6 1172.3h0M1616.3 1284.6h0M1866.7 1232.7h0M1799 1352.7h0M1771.4 1265.3h0M1710.5 1128.2h0M1803.8 1183.8h0M1766.6 1243h0M1766.3 1090.7h0M1808.8 1167.4h0M1737 1243.1h0M1623.6 1188.4h0M1589 1164.6h0M1785.3 1194h0M1727.8 1252.8h0M1715.5 1074.2h0M1847.7 1218.1h0M1821.3 1167.2h0M1709.3 1141.3h0M1572.9 1165.6h0M1728.6 1191.7h0M1730.1 1215.1h0M1820.6 1059.4h0M1817.9 1171h0M1733.2 1101.9h0M1637.1 1154.9h0M1741 1154.7h0M1636.3 1144.2h0M1723.6 1108h0M1822.1 1296.4h0M1857.9 1166h0M1710 1120.7h0M1866.5 1154.1h0M1788.1 1195.8h0M1795.9 1358.8h0M1818.2 1159.1h0M1630.2 1113.3h0M1820.3 1222.4h0M1614.3 1226.4h0M1799.7 1237.3h0M1847.9 1078h0M1660.4 1113.5h0M1759.6 1306.4h0M1707 1229.2h0M1826.2 1161.5h0M1820.9 1189.9h0M1700.3 1353.8h0M1854.8 1167h0M1645.1 1346.3h0M1656.5 1185.7h0M1684.1 1125.5h0M1741 1292.9h0M1622.2 1246.4h0M1618.4 1199.8h0M1618.8 1095.7h0M1838.7 1267.5h0M1735.3 1174.8h0M1735.5 1161.1h0M1719 1251.7h0M1787.5 1191.7h0M1849 1198.4h0M1827.8 1299.4h0M1913.7 1251.8h0M1594.9 1214.7h0M1587.4 1208.6h0M1674.7 1233.2h0M1810.7 1195.8h0M1621.8 1215h0M1681.3 1227.1h0M1571.5 1128.6h0M1747.6 1101.1h0M1613.5 1280.1h0M1784.7 1137.3h0M1681.3 1236.5h0M1808.9 1132.6h0M1590.2 1277.2h0M1579.5 1187.7h0M1766.2 1278.9h0M1707.1 1223.7h0M1630.8 1240.8h0M1605.7 1252.9h0M1762.4 1074.1h0M1689.3 1338h0M1649.9 1065.9h0M1762 1267.2h0M1733.5 1161.9h0M1725.5 1264.1h0M1730.5 1246.3h0M1583.3 1173.6h0M1738.9 1285.5h0M1789.2 1217h0M1846.1 1212.4h0M1840.5 1160.8h0M1759 1215.7h0M1926.4 1225.1h0M1746.4 1223.8h0M1592.8 1256.7h0M1785.7 1114.2h0M1769.6 1200.8h0M1713.9 1309.2h0M1779.5 1199.6h0M1764.5 1111.8h0M1730.4 1038.3h0M1713.7 1276h0M1644.6 1232.8h0M1585.1 1199.6h0M1746.9 1198.1h0M1613.1 1246.8h0M1809.2 1242.3h0M1954.2 1165.9h0M1857.9 1086.8h0M1663 1292.4h0M1715.3 1134.7h0M1792.2 1087.4h0M1760.6 1114.6h0M1770 1185.3h0M1686.5 1220.9h0M1882.6 1270.4h0M1682.8 1222.3h0M1725.1 1246.2h0M1674.9 1325.6h0M1677 1120.6h0M1780.6 1336.6h0M1595.2 1210h0M1852.7 1140.1h0M1719.4 1281.8h0M1754.7 1090.1h0M1729.5 1170.8h0M1765.7 1124.1h0M1685.5 1174.9h0M1750.6 1187.1h0M1787.4 1253h0M1777.8 1145.8h0M1605.7 1129.9h0M1684.4 1179.3h0M1829.1 1190.2h0M1657.2 1090.8h0M1732.4 1175.7h0M1645.4 1062.7h0M1777.2 1211.8h0M1608.8 1161.8h0M1723.5 1115.8h0M1733.1 1142.2h0M1825.1 1139.5h0M1888.9 1275.8h0M1777.7 1217.9h0M1872.8 1166.4h0M1784.2 1178.5h0M1886.5 1172.5h0M1713.9 1247h0M1613 1130.9h0M1865.6 1134.3h0M1764.5 1274.4h0M1753.8 1204.7h0M1857 1154.1h0M1799.2 1177h0M1644.4 1206.1h0M1868.4 1184.1h0M1684 1185h0M1703.5 1243.4h0M1656.3 1276.4h0M1785.4 1300.6h0M1706.1 1279h0M1657.1 1252.3h0M1727.4 1109.5h0M1820 1319h0M1911 1235.1h0M1726.4 1322.9h0M1661.7 1214.5h0M1613.3 1215.5h0M1771.6 1167.3h0M1843.5 1188.7h0M1791.4 1244.5h0M1762.6 1117h0M1752.3 1077.8h0M1804.5 1250.4h0M1784.2 1159.8h0M1773.7 1096.1h0M1675.5 1236.2h0M1684.9 1180.4h0M1744.4 1286.9h0M1684.6 1154.3h0M1681.9 1064.3h0M1762.7 1028.3h0M1863.2 1196.6h0M1718.4 1350.2h0M1693.3 997.8h0M1722.2 1220.6h0M1647.6 1110.7h0M1689.3 1110.4h0M1821.1 1287h0M1723.4 1274.6h0M1679.7 1172.4h0M1590.8 1302.9h0M1858.2 1297.8h0M1792.1 1216.4h0M1651.3 1271.7h0M1802.4 1289.5h0M1778.9 1099.2h0M1644.1 1279.7h0M1897.4 1177h0M1741.6 1227.6h0M1767 1225.1h0M1724.2 1216.9h0M1695.4 1192.1h0M1808 1202.9h0M1689.1 1224.6h0M1645.7 1147.4h0M1650.3 1224.1h0M1804.1 1167.5h0M1664 1238.9h0M1768.1 1069.2h0M1833.4 1272.4h0M1721.2 1192.6h0M1734.9 1158.4h0M1783.1 1136.7h0M1715.3 1208.7h0M1588.8 1156.6h0M1627.7 1159.3h0M1693.8 1178.3h0M1751.4 1108h0M1763.8 1050.1h0M1821.2 1182.1h0M1807.4 1031.7h0M1708.3 1217.4h0M1744.9 1183.7h0M1905.6 1137.5h0M1859.1 1266.5h0M1770.2 1181h0M1793.2 1139.3h0M1709.3 1150.7h0M1672.2 1150.4h0M1795.2 1248.5h0M1667.2 1190.3h0M1723.4 1052.6h0M1843.4 1103.3h0M1812.1 1231.2h0M1789.2 1192.6h0M1931.1 1199.2h0M1678.4 1133.8h0M1870.1 1309.3h0M1695 1303.2h0M1754.4 1279.8h0M1581.9 1218.6h0M1748.7 1205.9h0M1688.1 1198.7h0M1910.2 1108.8h0M1719.9 1179.5h0M1913.6 1328.6h0M1797 1132.7h0M1778 1170.1h0M1884.1 1236.5h0M1651.9 1055h0M1686.3 1162.1h0M1805.3 1137.5h0M1902 1199.4h0M1776.8 1319.3h0M1765.6 1228.5h0M1808.3 1140.6h0M1699.9 1259.4h0M1677.4 1156.1h0M1835.2 1249.8h0M1780.6 1107.2h0M1930.7 1185.9h0M1732.5 1132.5h0M1723.7 1367.7h0M1823.5 1134.1h0M1713.6 1137.6h0M1757.6 1144.4h0M1756.7 1168.7h0M1743.5 1202.3h0M1680.6 1165.1h0M1635.9 1238.8h0M1808.7 1162.8h0M1713.9 1148.9h0M1697.7 1206.2h0M1819.4 1133.5h0M1811.1 1268.7h0M1748.1 1375.5h0M1750.4 1098.7h0M1644.4 1202.6h0M1790.6 1173.4h0M1732.3 1199.9h0M1658.5 1231.3h0M1806.2 1072.2h0M1835.5 1191.1h0M1683.9 1334.9h0M1616.5 1064.9h0M1770.8 1167.2h0M1747.5 1097.6h0M1622.6 1227.7h0M1769.1 1133.3h0M1743.7 1191.5h0M1833 1111.3h0M1828.1 1197.5h0M1741.5 1235.4h0M1693.8 1075.8h0M1589 1279h0M1833.4 1132.7h0M1839.2 1115.2h0M1767.1 1208.1h0M1810.8 1159.9h0M1781.2 1323.1h0M1616.5 1282.2h0M1644.7 1277.2h0M1707.2 1315.3h0M1719.3 1155.6h0M1838.2 1174.9h0M1725.1 1276.3h0M1874.7 1266.6h0M1572 1230.6h0M1826.2 1286.1h0M1841.8 1240.4h0M1934.8 1187.7h0M1637.4 1176h0M1824.1 1206.9h0M1881.9 1203.5h0M1705.8 1332.9h0M1737.1 1302h0M1661.3 1230h0M1763 1226h0M1675.2 1138.4h0M1695.9 1330.3h0M1727.9 1281.3h0M1678.1 1089.6h0M1762.7 1281.9h0M1597.9 1160.8h0M1805.2 1177.8h0M1720 1263.7h0M1761.5 1214.3h0M1700.9 1223h0M1700.3 1316.7h0M1660 1250.1h0M1681.5 1258h0M1896.8 1177.2h0M1948.7 1193.5h0M1708.8 1210.3h0M1766 1196.8h0M1779.9 1182h0M1866 1222.3h0M1732.1 1348.7h0M1935.8 1117h0M1805.8 1248.3h0M1804.7 1148.6h0M1690.6 1243.3h0M1729.7 1244.9h0M1846.4 1172.2h0M1796.2 1039.1h0M1883.8 1210.4h0M1726.7 1212.9h0M1771.5 1196.1h0M1691.1 1228h0M1676.2 1111.3h0M1747.9 1022.4h0M1826 1273.6h0M1810.3 1228.3h0M1824.1 1213.6h0M1794.5 1262.2h0M1886.9 1286.5h0M1833.2 1081.3h0M1777.3 1218.3h0M1703.7 1121h0M1811.3 1209.7h0M1723.9 1114.4h0M1682.4 1161.5h0M1777.9 1336.3h0M1790.2 1116.6h0M1627 1203.1h0M1814.3 1231.7h0M1887.1 1184.6h0M1745.6 1126.3h0M1832.4 1212.3h0M1775.1 1244.4h0M1702.7 1170.2h0M1806.3 1126.2h0M1741.5 1115.6h0M1686 1262.2h0M1581.2 1135.5h0M1768.6 1209.3h0M1839.4 1248.1h0M1714.8 1296.5h0M1669.7 1109.7h0M1770.5 1108.4h0M1753.1 1334.9h0M1673.3 1202.4h0M1683.8 1085.3h0M1790.8 1291.6h0M1676.9 1197.4h0M1724.6 1131.1h0M1812.6 1025.6h0M1687.6 1336.7h0M1782.3 1183.4h0M1583.2 1085.2h0M1668.5 1264.1h0M1618.1 1280.1h0M1732.9 1222h0M1653.7 1155.3h0M1780 1200.8h0M1645.7 1206.9h0M1598.3 1356.2h0M1687.3 1163.6h0M1639.3 1196.3h0M1540.4 1204.3h0M1716.2 1091h0M1821.7 1079.2h0M1821.2 1274.1h0M1753.1 1236.7h0M1555.5 1138.4h0M1791.7 1282.9h0M1597.7 1209.1h0M1743.2 1272.3h0M1726.4 1245h0M1789 1334.1h0M1847.9 1124.1h0M1718.1 1075.1h0M1666.9 1228.8h0M1851 1287.8h0M1747.9 1326.1h0M1785.5 1217.1h0M1840.7 1142.2h0M1686.6 1174.1h0M1960.1 1232.6h0M1579.7 1220.3h0M1747.4 1282.4h0M1672.6 1148h0M1828.2 1120.9h0M1896.6 1185.2h0M1788.8 1153.2h0M1905.8 1151.7h0M1872.2 1158.2h0M1787.4 1131.1h0M1822 1332.7h0M1704 1357.5h0M1683.9 1228.1h0M1710.8 1224.8h0M1706.2 1074.5h0M1866.5 1221.6h0M1719.9 1255.1h0M1625.2 1186.9h0M1815.9 1317.7h0M1769 1275.5h0M1591 1205.9h0M1831.5 1312.9h0M1770.8 1062.3h0M1814.8 1258.2h0M1711.6 1320.5h0M1917.4 1117.2h0M1774.1 1301.9h0M1633.6 1137.9h0M1721.5 1131.6h0M1723.2 1281.5h0M1662.9 1260h0M1744.9 1175.4h0M1615.8 1220.1h0M1794.3 1130.4h0M1829.9 1280.6h0M1760.3 1125.7h0M1736.6 1278.4h0M1831.4 1191.6h0M1727.6 1263.6h0M1810 1285.3h0M1647.6 1193.8h0M1831.2 1139.8h0M1760.8 1141.4h0M1839.1 1311.2h0M1723.6 1248.8h0M1710.1 1292.1h0M1738.8 1133.5h0M1729.2 1100.4h0M1696.8 1234.2h0M1704.6 1197.1h0M1775.5 1270.9h0M1657.9 1132.2h0M1752.8 1332h0M1773.5 1185.3h0M1733.6 1181.3h0M1691.8 1275.7h0M1921 1221.3h0M1827.8 1203.5h0M1903.2 1159.3h0M1778.8 1157.9h0M1797.9 1269.2h0M1821.6 1240h0M1684.5 1107.6h0M1656.1 1205.5h0M1659.1 1122h0M1783.4 1341.1h0M1928.1 1220.5h0M1796.2 1234.1h0M1744.1 1153.1h0M1703.1 1225.3h0M1885.6 1090h0M1644.9 1262.1h0M1795.3 1368.4h0M1732.6 1092.4h0M1827.1 1229.2h0M1805.6 1260.6h0M1672.5 1210.2h0M1662.2 1171h0M1764 1165.3h0M1643.6 1104.4h0M1873.3 1266.3h0M1774.2 1315.4h0M1794.6 1158.2h0M1853.7 1240.3h0M1761.1 1319.5h0M1827.9 1226.7h0M1768.5 1208.7h0M1731.3 1085.8h0M1847.8 1199.1h0M1737.4 1263.9h0M1683.7 1167.3h0M1810.6 1180.4h0M1645 1114h0M1679 1231.9h0M1704 1101.8h0M1715.7 1375h0M1650.6 1234h0M1650.6 1131.6h0M1609.5 1282.2h0M1721.3 1190.5h0M1673.8 1216.7h0M1801.9 1127.6h0M1741.8 1192.3h0M1667.5 1152.1h0M1732.3 1266.5h0M1680.6 1198.8h0M1836.8 1310.9h0M1608.9 1217.6h0M1721.7 1152h0M1677 1340h0M1837.1 1173.9h0M1753.8 1191.1h0M1726.3 1266.7h0M1701.5 1259.7h0M1613.2 1222.8h0M1735.1 1151.9h0M1785.3 1210.3h0M1717.1 1311.4h0M1735.9 1185.1h0M1698.2 1292.9h0M1780.6 1279.4h0M1795.3 1192.5h0M1883.6 1157h0M1759.3 1203.3h0M1762.2 1125.9h0M1726.1 1262.2h0M1843.8 1270.2h0M1795.4 1181.4h0M1811.1 1200.5h0M1764.8 1241.2h0M1676.9 1252.8h0M1854.4 1069.7h0M1718 1335.7h0M1761.2 1253.7h0M1818.7 1137.9h0M1630 1298.2h0M1867.9 1273h0M1825.4 1142.9h0M1684.2 1204.8h0M1810.2 1174.5h0M1722.1 1243.3h0M1656.3 1233.8h0M1851.5 1257.1h0M1658.9 1234.6h0M1742.2 1143.7h0M1719.2 1158.4h0M1841.5 1198.2h0M1710.9 1235.3h0M1785.3 1250.3h0M1839.6 1137.9h0M1698.6 1295.2h0M1685.6 1260.8h0M1547 1203.4h0M1728.7 1234.6h0M1568.1 1078.6h0M1639.6 1221h0M1753.6 1114.1h0M1831 1257.3h0M1786.5 1152.2h0M1697.1 1084.7h0M1723.3 1248h0M1695.4 1163.2h0M1707.1 1300.2h0M1642 1145.3h0M1816 1279h0M1749.4 1154h0M1719.2 1346.5h0M1844.9 1172.1h0M1869 1123h0M1916.1 1167.4h0M1823.5 1093.1h0M1764.7 1168h0M1728.4 1193.7h0M1595.4 1069.3h0M1748.7 1214.8h0M1707.2 1258.1h0M1832.1 1181.9h0M1785.9 1040.7h0M1665.5 1108.8h0M1621.4 1294h0M1759.9 1274.8h0M1723.4 1082.1h0M1705.7 1257.6h0M1830.7 1280.6h0M1723 1202.7h0M1793.1 1367.6h0M1698.8 1241.7h0M1829.9 1153.8h0M1774.9 1235.6h0M1766.2 1207.2h0M1853.3 1167.3h0M1629.5 1195.6h0M1760.2 1273.7h0M1835.6 1210.7h0M1761 1345.8h0M1560 1193.6h0M1741.9 1356h0M1710.2 1105.8h0M1622.4 1208.3h0M1690.6 1122.8h0M1674.9 1260.9h0M1722.3 1278.7h0M1858.9 1246.8h0M1771.3 1135.1h0M1848.2 1308.1h0M1630.7 1164.6h0M1806.9 1231.9h0M1868.7 1126.3h0M1737 1209.2h0M1759.6 1302.1h0M1834.4 1331.9h0M1755 1168.3h0M1836.7 1244.7h0M1656 1116h0M1778.2 1291.2h0M1760.3 1308.6h0M1765.2 1089.8h0M1713.4 1280.4h0M1837.7 1168.4h0M1741.2 1202.5h0M1824.9 1093.1h0M1821.4 1184.3h0M1731.2 1046.5h0M1705.8 1012.1h0M1758 1215.8h0M1592.7 1136.9h0M1719.1 1194h0M1905.5 1105.3h0M1719.4 1177.1h0M1739.3 1228.9h0M1613.4 1123.6h0M1659.6 1189.7h0M1640.1 1149.3h0M1824.7 1307.1h0M1731.2 1326.8h0M1818.7 1187.9h0M1769.9 1243.4h0M1731.2 1252.1h0M1705.7 1098.2h0M1686.4 1216.9h0M1701.7 1139.8h0M1784 1264.4h0M1708.7 1183.2h0M1814 1106.3h0M1897.9 1138.7h0M1824.8 1118.7h0M1751.2 1159.6h0M1720.2 1178.2h0M1847.4 1226h0M1763.6 1182.8h0M1594.6 1241.3h0M1755.3 1355h0M1788.4 1242.9h0M1739.9 1150.9h0M1756.8 1354.4h0M1837.8 1093.6h0M1699.2 1056.1h0M1639.1 1279.7h0M1871.5 1142.1h0M1815.2 1098.3h0M1843.9 1166.6h0M1732.2 1133.7h0M1694.6 1362h0M1809.2 1172.1h0M1720.6 1173h0M1663.4 1263h0M1652.7 1260.7h0M1886 1268.8h0M1726.2 1158.6h0M1663.3 1115.3h0M1705.1 1199.4h0M1763.1 1079.1h0M1892.6 1220.1h0M1761.6 1213h0M1824.1 1243.3h0M1775.4 1133.5h0M1814.6 1201h0M1749.5 1175.5h0M1786.5 1240.3h0M1781.8 1343.4h0M1831.7 1210.6h0M1796.2 1064.7h0M1832.2 1163.8h0M1679.6 1256.1h0M1653.9 1262.6h0M1688.8 1086.2h0M1731.8 1272.6h0M1696.7 1256.9h0M1742 1205h0M1841.5 1205h0M1566 1102.2h0M1719.9 1120h0M1585 1133.3h0M1717.4 1179.3h0M1714.6 1162.4h0M1775.7 1276.7h0M1805.3 1151.6h0M1824.5 1239.5h0M1792.1 1253.9h0M1806.2 1107.2h0M1746.6 1168.4h0M1674.4 1245.7h0M1724.1 1157.9h0M1771.2 1256.7h0M1786.1 1265.7h0M1671.2 1125.5h0M1877.8 1110.2h0M1799.5 1165.7h0M1620.3 1252.8h0M1822.5 1006h0M1755.6 1030.3h0M1755.1 1079.4h0M1864.8 1155.3h0M1658.5 1209.1h0M1763.5 1119.3h0M1761.6 1174.9h0M1817.3 1152.8h0M1884.8 1146.1h0M1739.1 1160.6h0M1638.8 1190.1h0M1685.4 1269.4h0M1738.5 1276.7h0M1829.9 1163.7h0M1775.5 1347.3h0M1686.4 1074.3h0M1843 1169.9h0M1600.3 1143.2h0M1757.8 1115.7h0M1757.6 1259.6h0M1797 1295.2h0M1678.8 1101.9h0M1804.7 1221.6h0M1875.9 1284.3h0M1824.9 1198.5h0M1788.5 1178.9h0M1853.4 1260.9h0M1873.4 1217.8h0M1740 1256.6h0M1711.4 1187.5h0M1670.6 1252.2h0M1775.3 1149.9h0M1939.3 1248.5h0M1668.2 1135.7h0M1738.1 1066.1h0M1666.8 1221.7h0M1828.4 1102.5h0M1856.2 1266.2h0M1651.4 1083.2h0M1802 1253.2h0M1725.5 1263.5h0M1702.9 1086.9h0M1654 1071.9h0M1771.4 1238.4h0M1803.1 1143.2h0M1759.5 1162.5h0M1714.7 1111.4h0M1603.1 1203.6h0M1673.5 1142.8h0M1836.8 1212.2h0M1746 1183.2h0M1739.1 1286.3h0M1716.2 1342.6h0M1878.7 1093.1h0M1833.6 1135.7h0M1599.5 1227.3h0M1876.1 1062.2h0M1623.8 1129.5h0M1784.4 1168h0M1694.5 1166.2h0M1645.3 1102.5h0M1791.4 1218.4h0M1579.6 1157.1h0M1776.6 1140h0M1796 1247.6h0M1842.1 1162.1h0M1698.9 1210.4h0M1829.5 1163.7h0M1701.5 1279.2h0M1776.5 1289.3h0M1669.1 1221.9h0M1856.2 1223.7h0M1817.6 1143.6h0M1816 1216.8h0M1711.2 1094.1h0M1788.1 1113.4h0M1778.5 1321.4h0M1715.8 1232.4h0M1647.4 1267.1h0M1557.8 1205.2h0M1656.7 1121.5h0M1894.1 1122.1h0M1876.9 1189.7h0M1683.8 1196.4h0M1730.8 1189.8h0M1839.5 1058h0M1743.2 1232.4h0M1677.8 1349h0M1661.7 1165.1h0M1723.5 1160.2h0M1832.7 1107.7h0M1731.4 1248.8h0M1713.7 1236.4h0M1908.9 1109.6h0M1744.9 1215.6h0M1740.9 1127.5h0M1681.5 1159.5h0M1607.8 1343.7h0M1820.4 1235.9h0M1740.8 1211.6h0M1882.9 1188.9h0M1569.1 1233.6h0M1906.5 1245.7h0M1806.3 1226.5h0M1835.3 1184.9h0M1818.1 1104.6h0M1792.3 1094.6h0M1647.9 1323.4h0M1776 1369.9h0M1818.3 1083.7h0M1699 1214.6h0M1945.8 1268.1h0M1585.2 1271h0M1855 1309.1h0M1724.5 1176.7h0M1764 1179.1h0M1639.3 1203.9h0M1869.4 1205.4h0M1780.4 1363.5h0M1750.2 1182.4h0M1746.3 1233.8h0M1654.4 1192.6h0M1658 1181.1h0M1874.3 1309.6h0M1746.3 1322.7h0M1654.5 1333.2h0M1575.8 1114.2h0M1795.8 1111.8h0M1921.8 1131.5h0M1925.1 1245h0M1642.3 1159.7h0M1630 1225.8h0M1745.9 1142h0M1810.5 1162.4h0M1866.4 1241h0M1701.3 1267.9h0M1770.1 1335.6h0M1655.6 1295.1h0M1738 1133.7h0M1842 1115.7h0M1726.6 1219.6h0M1823 1216.8h0M1669.6 1240.9h0M1602.5 1067.8h0M1805.5 1130h0M1776.3 1185.9h0M1696.3 1189.5h0M1916.7 1283.3h0M1767.6 1264.8h0M1682.4 887.2h0M1682.9 916.7h0M1726.3 914.7h0M1679.2 941.4h0M1731.2 943h0M1898.6 931.5h0M1723.5 956.1h0M1743.5 958.2h0M1776.4 956.1h0M1873.1 956.9h0M1706.6 966h0M1850.2 965.1h0M1855.9 975h0M1892.8 976.6h0M1728.4 979.9h0M1726.7 988.1h0M1779.6 981.9h0M1797.7 979.9h0M1790.7 987.7h0M1796 991.8h0M1769.4 990.2h0M1653.3 1003.7h0M1694.3 1005.7h0M1714 1002.5h0M1778.8 1005.7h0M1743.1 1010.2h0M1769.8 1012.3h0M1759.1 1016h0M1903.9 1008.6h0M1907.6 1018h0M1564.3 1015.2h0M1975.2 1027.9h0M1960.1 1045.1h0M1965.4 1075.9h0M1436.4 1188.6h0M1470 1183.3h0M1509 1183.7h0M1465.1 1248.5h0M1526.2 1107.8h0M1518 1146h0M1495.9 1312.9h0M1504.1 1361.3h0M1554.1 1368.6h0M1522.5 1248.1h0M1523.7 1270.6h0M1532.4 1264.1h0M1543 1280.9h0M1538.9 1311.6h0M2085.1 1187.8h0M2025.3 1221.4h0M1978.5 1143.5h0M1977.7 1165.3h0M1984.3 1239.1h0M1993.3 1295.7h0M1964.2 1294.4h0M1952.7 1249.7h0M1980.2 1367h0M1944.1 1367.8h0M1932.2 1439.2h0M1920.7 1444.1h0M1591 1399h0M1610.3 1380.9h0M1637.3 1387.9h0M1668.9 1392.8h0M1674.7 1415h0M1687.8 1413.8h0M1687.8 1416.2h0M1723.9 1403.5h0M1723 1422h0M1717.3 1392.8h0M1716.1 1381.4h0M1739 1380.9h0M1747.6 1378.1h0M1763.6 1383.8h0M1789.1 1393.7h0M1797.7 1385h0M1825.2 1405.6h0M1842.4 1383.8h0M1844.4 1376.4h0M1798.1 1414.2h0M1789.1 1420.7h0M1843.6 1427.7h0M1764.5 1436.3h0M1804.2 1435.5h0M1680.4 1438.4h0M1705.8 1446.6h0M1665.6 1456h0M1571.7 1445.7h0M1871.9 1445.3h0M1702.9 1471.6h0M1778 1488.8h0M1688.6 1522h0" stroke="#000" stroke-width="7.6" stroke-linecap="round" fill="none"/>
<polygon points="1437,1191.2 1453.2,1191.7 1469.5,1192.1 1485.7,1192.6 1501.9,1193.1 1518.1,1193.5 1534.3,1194 1550.6,1194.4 1566.8,1194.8 1583,1195.3 1599.2,1195.7 1615.5,1196 1631.7,1196.4 1647.9,1196.7 1664.2,1197 1680.4,1197.2 1696.6,1197.3 1712.8,1197.4 1729,1197.3 1745.3,1197.1 1761.5,1196.7 1777.7,1196.2 1794,1195.5 1810.2,1194.8 1826.4,1194 1842.6,1193.1 1858.8,1192.1 1875.1,1191.1 1891.3,1190.1 1907.5,1189.1 1923.8,1188 1940,1186.9 1956.2,1185.9 1972.4,1184.8 1988.7,1183.7 2004.9,1182.6 2021.1,1181.5 2037.3,1180.3 2053.6,1179.2 2069.8,1178.1 2086,1177 2086,1213 2069.8,1212.6 2053.6,1212.1 2037.3,1211.6 2021.1,1211.1 2004.9,1210.7 1988.7,1210.2 1972.4,1209.7 1956.2,1209.3 1940,1208.9 1923.8,1208.4 1907.5,1208 1891.3,1207.6 1875.1,1207.3 1858.8,1206.9 1842.6,1206.6 1826.4,1206.4 1810.2,1206.2 1794,1206.1 1777.7,1206.1 1761.5,1206.2 1745.3,1206.5 1729,1206.9 1712.8,1207.5 1696.6,1208.2 1680.4,1208.9 1664.2,1209.8 1647.9,1210.7 1631.7,1211.7 1615.5,1212.7 1599.2,1213.7 1583,1214.7 1566.8,1215.8 1550.6,1216.9 1534.3,1218 1518.1,1219.1 1501.9,1220.2 1485.7,1221.3 1469.5,1222.4 1453.2,1223.5 1437,1224.6" fill="#999" fill-opacity="0.4"/>
<line x1="1437" y1="1207.9" x2="2086" y2="1195" stroke="#3759dc" stroke-width="3.7"/>
</g>
<g id="titles">
<text transform="translate(0.2,65.75) scale(0.9266,1)" font-size="78.78" fill="#44546a" stroke="#44546a" stroke-width="0.5">GLUCOSE</text>
<text transform="translate(617.22,51.95) scale(0.9864,1)" font-size="57.27" fill="#000" stroke="#000" stroke-width="1.1">Imputed MXB dataset</text>
<text transform="translate(1442.42,53.35) scale(0.9874,1)" font-size="57.27" fill="#000" stroke="#000" stroke-width="1.1">Genotyped MXB dataset</text>
<text transform="translate(197.79,387.05) scale(0.9981,1)" font-size="56.54" fill="#000" stroke="#000" stroke-width="1.1">MXB</text>
<text transform="translate(198.72,454.25) scale(1.0004,1)" font-size="56.54" fill="#000" stroke="#000" stroke-width="1.1">GWAS</text>
<text transform="translate(206.74,1210.45) scale(1.0057,1)" font-size="56.54" fill="#000" stroke="#000" stroke-width="1.1">UKB</text>
<text transform="translate(207.02,1278.55) scale(1.0004,1)" font-size="56.54" fill="#000" stroke="#000" stroke-width="1.1">GWAS</text>
<text transform="translate(1112.52,1665.25) scale(0.9886,1)" font-size="51.02" fill="#000" stroke="#000" stroke-width="1.1">Trait value (INT)</text>
<text transform="translate(443.2,1001.3) rotate(-90) translate(-4.13,-0.55) scale(0.9785,1)" font-size="57.99" fill="#000" stroke="#000" stroke-width="1.1">Polygenic Score</text>
</g>
<g id="stats">
<text transform="translate(589.34,124.68) scale(0.937,1)" font-size="26.96" fill="#000" stroke="#000" stroke-width="0.45">R = 0.12, p = 2.3x10</text>
<text transform="translate(819.46,116.92) scale(1.0835,1)" font-size="15.7" fill="#000" stroke="#000" stroke-width="0.45">-5</text>
<text transform="translate(1454.53,123.78) scale(0.9588,1)" font-size="26.53" fill="#000" stroke="#000" stroke-width="0.45">R = 0.075, p = 0.0069</text>
<text transform="translate(596.03,920.38) scale(0.9679,1)" font-size="26.24" fill="#000" stroke="#000" stroke-width="0.45">R = 0.044, p = 0.097</text>
<text transform="translate(1432.02,922.98) scale(0.9791,1)" font-size="26.09" fill="#000" stroke="#000" stroke-width="0.45">R = 0.019, p = 0.5</text>
</g>
<g id="ticks">
<text transform="translate(494.14,257.33) scale(0.9289,1)" font-size="27.42" fill="#000" stroke="#000" stroke-width="0.6">3000</text>
<text transform="translate(493.61,451.93) scale(0.9577,1)" font-size="27" fill="#000" stroke="#000" stroke-width="0.6">2500</text>
<text transform="translate(495.21,649.23) scale(0.9493,1)" font-size="27.14" fill="#000" stroke="#000" stroke-width="0.6">2000</text>
<text transform="translate(703.5,798.5) scale(1.032,1)" font-size="32.4" fill="#000" stroke="#000" stroke-width="0.6">-2</text>
<text transform="translate(891.43,796.17) scale(0.9792,1)" font-size="32.51" fill="#000" stroke="#000" stroke-width="0.6">0</text>
<text transform="translate(1068.02,796.5) scale(1.0198,1)" font-size="32.97" fill="#000" stroke="#000" stroke-width="0.6">2</text>
<text transform="translate(516.57,997.94) scale(0.971,1)" font-size="26.43" fill="#000" stroke="#000" stroke-width="0.6">50</text>
<text transform="translate(516.3,1173.24) scale(0.9829,1)" font-size="26.43" fill="#000" stroke="#000" stroke-width="0.6">25</text>
<text transform="translate(525.95,1345.04) scale(0.9957,1)" font-size="26.29" fill="#000" stroke="#000" stroke-width="0.6">0</text>
<text transform="translate(503.34,1516.04) scale(0.9789,1)" font-size="26.29" fill="#000" stroke="#000" stroke-width="0.6">-25</text>
<text transform="translate(691.2,1594.7) scale(1.0146,1)" font-size="32.83" fill="#000" stroke="#000" stroke-width="0.6">-2</text>
<text transform="translate(886.02,1593.17) scale(0.9771,1)" font-size="32.79" fill="#000" stroke="#000" stroke-width="0.6">0</text>
<text transform="translate(1066.45,1597.1) scale(1.0597,1)" font-size="32.97" fill="#000" stroke="#000" stroke-width="0.6">2</text>
<text transform="translate(1353.32,1088.84) scale(1.0047,1)" font-size="26.01" fill="#000" stroke="#000" stroke-width="0.6">-10</text>
<text transform="translate(1354.93,1330.43) scale(0.9805,1)" font-size="26.57" fill="#000" stroke="#000" stroke-width="0.6">-20</text>
<text transform="translate(1543.5,1595.6) scale(1.0185,1)" font-size="32.83" fill="#000" stroke="#000" stroke-width="0.6">-2</text>
<text transform="translate(1738.37,1592.88) scale(1.0288,1)" font-size="32.37" fill="#000" stroke="#000" stroke-width="0.6">0</text>
<text transform="translate(1924.95,1590.9) scale(1.0597,1)" font-size="32.97" fill="#000" stroke="#000" stroke-width="0.6">2</text>
<text transform="translate(1382.86,222.11) scale(0.9939,1)" font-size="28.55" fill="#4d4d4d" stroke="#4d4d4d" stroke-width="0.2">50</text>
<text transform="translate(1398.34,396.52) scale(1.0379,1)" font-size="27.84" fill="#4d4d4d" stroke="#4d4d4d" stroke-width="0.2">0</text>
<text transform="translate(1367.21,570.92) scale(0.9987,1)" font-size="27.84" fill="#4d4d4d" stroke="#4d4d4d" stroke-width="0.2">−50</text>
<text transform="translate(1351.2,744.82) scale(1.0172,1)" font-size="27.56" fill="#4d4d4d" stroke="#4d4d4d" stroke-width="0.2">−100</text>
<text transform="translate(1561.25,795.5) scale(1.0352,1)" font-size="27.96" fill="#4d4d4d" stroke="#4d4d4d" stroke-width="0.2">−2</text>
<text transform="translate(1746.2,795.62) scale(1.0541,1)" font-size="28.41" fill="#4d4d4d" stroke="#4d4d4d" stroke-width="0.2">0</text>
<text transform="translate(1922.91,795.5) scale(1.1399,1)" font-size="27.96" fill="#4d4d4d" stroke="#4d4d4d" stroke-width="0.2">2</text>
<text transform="translate(2100.35,795.5) scale(1.0123,1)" font-size="28.36" fill="#4d4d4d" stroke="#4d4d4d" stroke-width="0.2">4</text>
<text transform="translate(2109.63,1570.6) scale(1.0748,1)" font-size="11.05" fill="#8a8a8a">4</text>
<path d="M554.8 253H560.4M554.8 444.1H560.4M554.8 636H560.4M717.4 762.8V767M894.7 762.8V767M1073.9 762.8V767M1252 762.8V767M1418.2 211.6H1422.8M1418.2 385.6H1422.8M1418.2 559.6H1422.8M1418.2 734.1H1422.8M1577.9 765.8V771M1755 765.8V771M1932 765.8V771M2108.5 765.8V771M551.8 990.2H554M551.8 1162.7H554M551.8 1333.9H554M551.8 1505.5H554M714.1 1556.5V1561.5M893.9 1556.5V1561.5M1074.4 1556.5V1561.5M1255.9 1556.5V1561.5M1399 1075.6H1404.4M1399 1318H1404.4M1565 1553.4V1558M1747.9 1553.4V1558M1930.9 1553.4V1558M2112.9 1553.4V1558" stroke="#555" stroke-width="1.7" fill="none"/>
<path d="M1568 1561.8h4M1746 1561.8h4M1929 1561.8h4" stroke="#999" stroke-width="1" fill="none"/>
</g>
</svg>
</body></html>
